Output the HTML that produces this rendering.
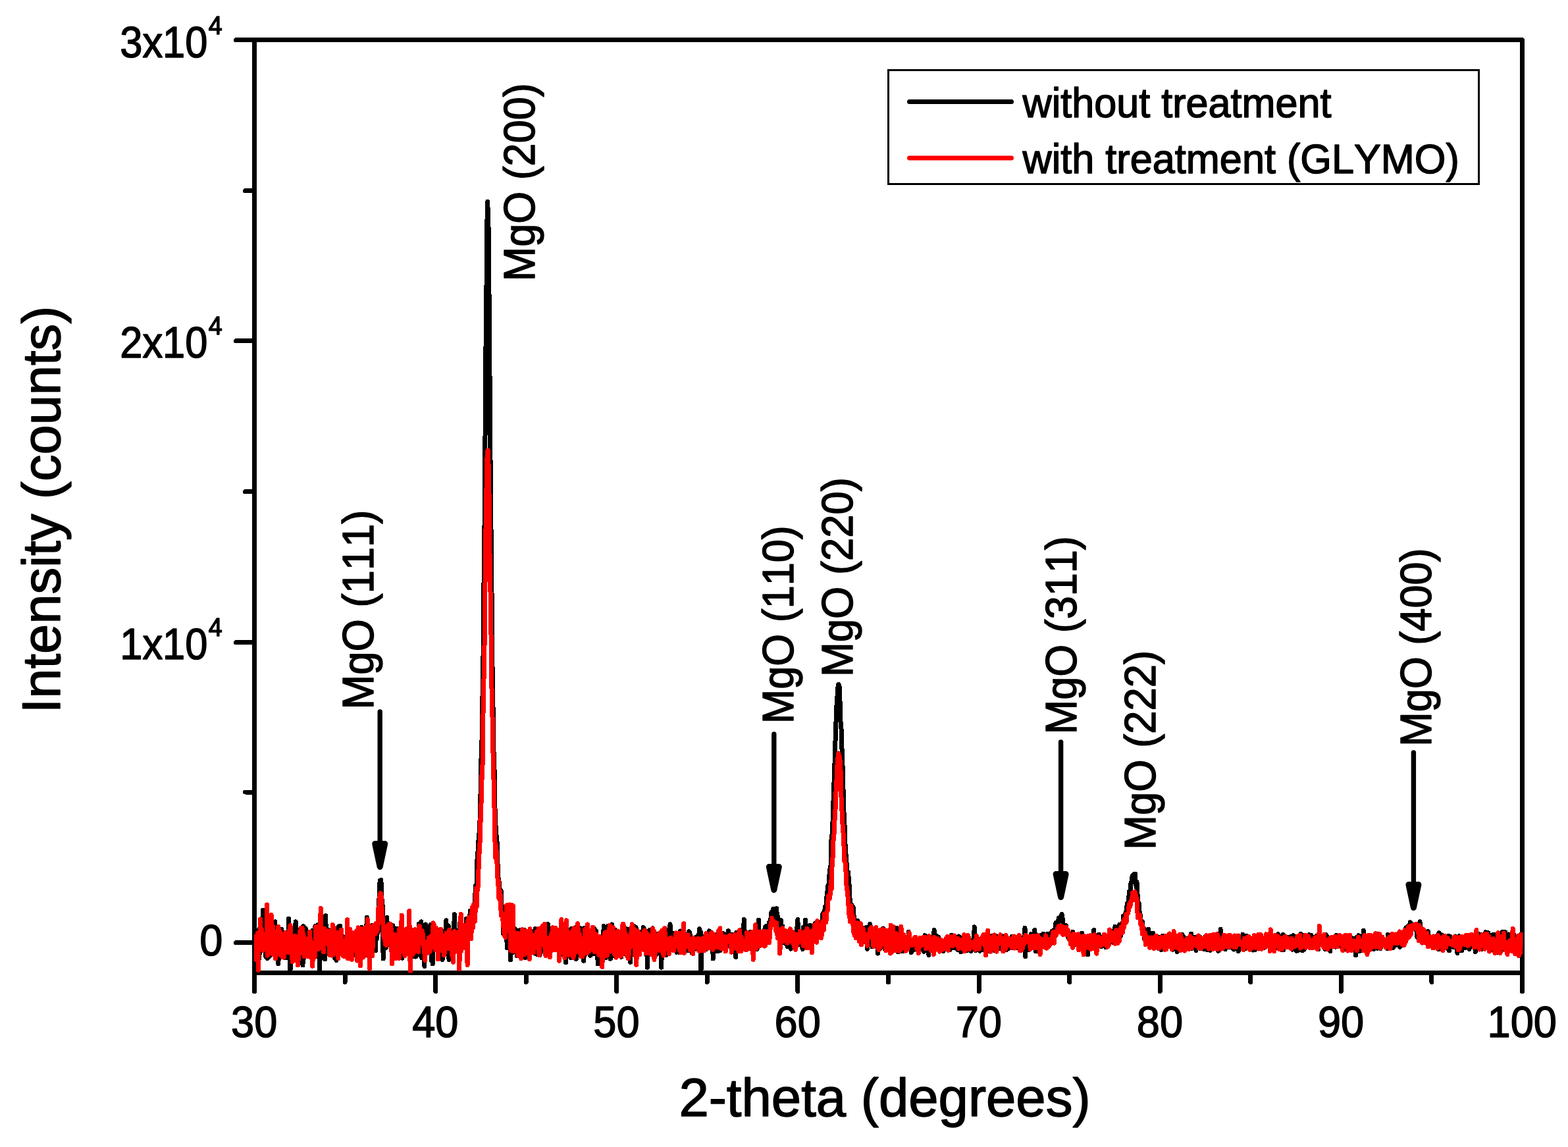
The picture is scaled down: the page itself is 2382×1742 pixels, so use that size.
<!DOCTYPE html>
<html lang="en"><head><meta charset="utf-8"><title>XRD pattern: MgO with and without GLYMO treatment</title>
<style>
html,body{margin:0;padding:0;background:#fff;}
body{width:2382px;height:1742px;}
svg{display:block;}
text{font-family:"Liberation Sans",sans-serif;font-kerning:none;font-feature-settings:"kern" 0,"liga" 0;fill:#000;stroke:#000;stroke-width:1.5px;stroke-linejoin:round;}
</style></head><body>
<svg width="2382" height="1742" viewBox="0 0 2382 1742" role="img" aria-label="XRD pattern of MgO with and without GLYMO treatment">
<rect x="0" y="0" width="2382" height="1742" fill="#fff"/>
<defs><clipPath id="plotclip"><rect x="386" y="57" width="1927.5" height="1420.5"/></clipPath></defs>
<g stroke="#000" stroke-width="7" fill="none" stroke-linecap="round" shape-rendering="crispEdges">
<rect x="386.5" y="60.5" width="1926" height="1417" stroke-linejoin="round"/>
<line x1="386.5" y1="1477.5" x2="386.5" y2="1505.5"/>
<line x1="524.07" y1="1477.5" x2="524.07" y2="1491.5"/>
<line x1="661.64" y1="1477.5" x2="661.64" y2="1505.5"/>
<line x1="799.21" y1="1477.5" x2="799.21" y2="1491.5"/>
<line x1="936.79" y1="1477.5" x2="936.79" y2="1505.5"/>
<line x1="1074.36" y1="1477.5" x2="1074.36" y2="1491.5"/>
<line x1="1211.93" y1="1477.5" x2="1211.93" y2="1505.5"/>
<line x1="1349.5" y1="1477.5" x2="1349.5" y2="1491.5"/>
<line x1="1487.07" y1="1477.5" x2="1487.07" y2="1505.5"/>
<line x1="1624.64" y1="1477.5" x2="1624.64" y2="1491.5"/>
<line x1="1762.21" y1="1477.5" x2="1762.21" y2="1505.5"/>
<line x1="1899.79" y1="1477.5" x2="1899.79" y2="1491.5"/>
<line x1="2037.36" y1="1477.5" x2="2037.36" y2="1505.5"/>
<line x1="2174.93" y1="1477.5" x2="2174.93" y2="1491.5"/>
<line x1="2312.5" y1="1477.5" x2="2312.5" y2="1505.5"/>
<line x1="386.5" y1="1431.5" x2="358.5" y2="1431.5"/>
<line x1="386.5" y1="1203" x2="372.5" y2="1203"/>
<line x1="386.5" y1="975.5" x2="358.5" y2="975.5"/>
<line x1="386.5" y1="746.5" x2="372.5" y2="746.5"/>
<line x1="386.5" y1="517.5" x2="358.5" y2="517.5"/>
<line x1="386.5" y1="289.5" x2="372.5" y2="289.5"/>
<line x1="386.5" y1="60.5" x2="358.5" y2="60.5"/>
</g>
<g clip-path="url(#plotclip)" fill="none" stroke-linejoin="round" stroke-linecap="round" stroke-width="7" shape-rendering="crispEdges">
<path id="curve-black" stroke="#000" d="M386.5,1430.9 L387.3,1411.6 L388.2,1413.0 L389.0,1440.2 L389.8,1436.7 L390.6,1440.5 L391.5,1421.8 L392.3,1432.5 L393.1,1419.1 L393.9,1455.3 L394.8,1409.8 L395.6,1433.2 L396.4,1420.1 L397.2,1433.9 L398.1,1438.1 L398.9,1423.6 L399.7,1382.0 L400.5,1435.0 L401.4,1434.2 L402.2,1420.1 L403.0,1445.6 L403.8,1452.8 L404.7,1424.7 L405.5,1442.7 L406.3,1455.7 L407.1,1444.8 L408.0,1439.5 L408.8,1449.6 L409.6,1452.6 L410.4,1430.9 L411.3,1417.1 L412.1,1435.6 L412.9,1443.8 L413.7,1424.9 L414.6,1419.6 L415.4,1436.7 L416.2,1422.3 L417.0,1415.2 L417.9,1399.9 L418.7,1444.8 L419.5,1425.5 L420.3,1427.2 L421.2,1414.5 L422.0,1450.6 L422.8,1464.0 L423.6,1445.1 L424.5,1454.5 L425.3,1429.3 L426.1,1422.5 L426.9,1443.7 L427.8,1411.4 L428.6,1418.1 L429.4,1421.0 L430.2,1424.6 L431.1,1416.3 L431.9,1451.0 L432.7,1421.2 L433.5,1421.3 L434.4,1454.7 L435.2,1425.5 L436.0,1435.9 L436.9,1418.7 L437.7,1439.0 L438.5,1395.3 L439.3,1425.6 L440.2,1445.6 L441.0,1474.5 L441.8,1433.3 L442.6,1423.1 L443.5,1440.4 L444.3,1414.7 L445.1,1421.3 L445.9,1434.6 L446.8,1420.9 L447.6,1412.7 L448.4,1408.2 L449.2,1399.9 L450.1,1417.3 L450.9,1423.6 L451.7,1433.1 L452.5,1447.3 L453.4,1412.8 L454.2,1450.3 L455.0,1421.9 L455.8,1412.3 L456.7,1453.4 L457.5,1436.7 L458.3,1450.8 L459.1,1427.3 L460.0,1466.0 L460.8,1406.8 L461.6,1454.7 L462.4,1441.2 L463.3,1419.8 L464.1,1409.8 L464.9,1424.3 L465.7,1443.8 L466.6,1426.4 L467.4,1431.8 L468.2,1435.0 L469.0,1443.6 L469.9,1424.8 L470.7,1426.2 L471.5,1433.1 L472.3,1435.4 L473.2,1450.5 L474.0,1439.8 L474.8,1413.3 L475.6,1434.8 L476.5,1452.0 L477.3,1412.0 L478.1,1422.5 L478.9,1406.4 L479.8,1430.4 L480.6,1439.4 L481.4,1452.1 L482.2,1412.1 L483.1,1404.5 L483.9,1444.8 L484.7,1442.3 L485.6,1474.5 L486.4,1445.0 L487.2,1436.2 L488.0,1437.5 L488.9,1428.2 L489.7,1414.6 L490.5,1431.1 L491.3,1416.8 L492.2,1438.7 L493.0,1425.8 L493.8,1456.8 L494.6,1390.6 L495.5,1418.5 L496.3,1441.4 L497.1,1421.7 L497.9,1422.3 L498.8,1412.2 L499.6,1418.3 L500.4,1415.6 L501.2,1433.4 L502.1,1443.0 L502.9,1443.5 L503.7,1439.8 L504.5,1448.8 L505.4,1440.7 L506.2,1433.1 L507.0,1427.1 L507.8,1437.3 L508.7,1455.6 L509.5,1432.8 L510.3,1427.6 L511.1,1458.7 L512.0,1421.8 L512.8,1442.2 L513.6,1443.4 L514.4,1406.9 L515.3,1419.1 L516.1,1408.0 L516.9,1406.3 L517.7,1444.8 L518.6,1424.9 L519.4,1423.7 L520.2,1422.1 L521.0,1422.4 L521.9,1428.0 L522.7,1428.5 L523.5,1452.5 L524.3,1434.4 L525.2,1443.8 L526.0,1429.3 L526.8,1439.4 L527.6,1421.2 L528.5,1418.2 L529.3,1426.2 L530.1,1426.1 L531.0,1429.9 L531.8,1439.1 L532.6,1434.4 L533.4,1439.9 L534.3,1424.9 L535.1,1431.3 L535.9,1421.8 L536.7,1450.8 L537.6,1417.3 L538.4,1444.0 L539.2,1443.5 L540.0,1434.9 L540.9,1441.0 L541.7,1426.5 L542.5,1441.1 L543.3,1448.0 L544.2,1445.1 L545.0,1412.3 L545.8,1430.7 L546.6,1449.1 L547.5,1431.3 L548.3,1452.8 L549.1,1408.2 L549.9,1452.5 L550.8,1423.2 L551.6,1422.2 L552.4,1451.8 L553.2,1426.1 L554.1,1415.6 L554.9,1423.2 L555.7,1426.5 L556.5,1416.0 L557.4,1393.3 L558.2,1424.9 L559.0,1432.7 L559.8,1419.8 L560.7,1445.0 L561.5,1417.0 L562.3,1438.0 L563.1,1445.8 L564.0,1422.3 L564.8,1405.6 L565.6,1412.2 L566.4,1435.1 L567.3,1413.9 L568.1,1431.8 L568.9,1424.6 L569.7,1418.8 L570.6,1443.6 L571.4,1411.0 L572.2,1425.9 L573.0,1415.5 L573.9,1417.0 L574.7,1407.0 L575.5,1387.3 L576.3,1350.6 L577.2,1337.6 L578.0,1338.5 L578.8,1336.4 L579.7,1352.6 L580.5,1383.0 L581.3,1376.0 L582.1,1456.0 L583.0,1406.5 L583.8,1401.0 L584.6,1401.9 L585.4,1429.4 L586.3,1439.3 L587.1,1424.9 L587.9,1393.3 L588.7,1430.6 L589.6,1410.3 L590.4,1404.1 L591.2,1434.6 L592.0,1416.7 L592.9,1413.9 L593.7,1417.5 L594.5,1413.4 L595.3,1436.5 L596.2,1418.1 L597.0,1405.9 L597.8,1417.6 L598.6,1441.0 L599.5,1420.8 L600.3,1412.4 L601.1,1424.8 L601.9,1440.6 L602.8,1410.0 L603.6,1449.7 L604.4,1422.8 L605.2,1431.6 L606.1,1449.2 L606.9,1413.3 L607.7,1425.5 L608.5,1449.0 L609.4,1421.4 L610.2,1438.8 L611.0,1455.2 L611.8,1442.8 L612.7,1426.9 L613.5,1421.0 L614.3,1428.6 L615.1,1430.7 L616.0,1423.6 L616.8,1435.1 L617.6,1413.8 L618.4,1428.9 L619.3,1426.5 L620.1,1422.4 L620.9,1447.8 L621.7,1443.1 L622.6,1410.4 L623.4,1425.8 L624.2,1436.3 L625.0,1425.7 L625.9,1439.6 L626.7,1426.7 L627.5,1442.5 L628.4,1426.8 L629.2,1453.0 L630.0,1412.2 L630.8,1440.1 L631.7,1453.0 L632.5,1435.4 L633.3,1437.8 L634.1,1428.9 L635.0,1448.8 L635.8,1424.7 L636.6,1402.9 L637.4,1450.2 L638.3,1425.7 L639.1,1436.8 L639.9,1399.9 L640.7,1454.7 L641.6,1448.8 L642.4,1423.7 L643.2,1432.2 L644.0,1409.6 L644.9,1467.3 L645.7,1428.5 L646.5,1404.0 L647.3,1443.9 L648.2,1445.8 L649.0,1432.1 L649.8,1432.3 L650.6,1418.0 L651.5,1429.3 L652.3,1443.8 L653.1,1427.9 L653.9,1404.6 L654.8,1412.9 L655.6,1458.7 L656.4,1433.9 L657.2,1464.0 L658.1,1421.2 L658.9,1434.5 L659.7,1407.6 L660.5,1416.8 L661.4,1417.3 L662.2,1428.2 L663.0,1432.0 L663.8,1425.4 L664.7,1412.3 L665.5,1422.1 L666.3,1437.0 L667.1,1412.2 L668.0,1427.5 L668.8,1432.0 L669.6,1443.4 L670.4,1439.9 L671.3,1440.9 L672.1,1457.5 L672.9,1414.5 L673.7,1420.7 L674.6,1433.7 L675.4,1413.9 L676.2,1422.4 L677.1,1423.4 L677.9,1397.9 L678.7,1433.5 L679.5,1420.5 L680.4,1407.7 L681.2,1405.9 L682.0,1457.3 L682.8,1446.4 L683.7,1454.0 L684.5,1419.2 L685.3,1428.1 L686.1,1413.4 L687.0,1430.4 L687.8,1424.3 L688.6,1448.7 L689.4,1420.2 L690.3,1388.7 L691.1,1421.4 L691.9,1419.4 L692.7,1429.0 L693.6,1421.3 L694.4,1426.7 L695.2,1413.9 L696.0,1417.5 L696.9,1434.7 L697.7,1435.0 L698.5,1402.3 L699.3,1426.3 L700.2,1408.8 L701.0,1417.1 L701.8,1432.7 L702.6,1434.9 L703.5,1420.2 L704.3,1417.2 L705.1,1410.7 L705.9,1438.6 L706.8,1429.0 L707.6,1419.8 L708.4,1395.5 L709.2,1441.7 L710.1,1407.1 L710.9,1421.9 L711.7,1403.9 L712.5,1417.5 L713.4,1401.0 L714.2,1383.5 L715.0,1396.1 L715.8,1391.8 L716.7,1389.5 L717.5,1404.2 L718.3,1378.8 L719.1,1386.7 L720.0,1390.8 L720.8,1372.4 L721.6,1368.9 L722.4,1345.1 L723.3,1349.2 L724.1,1347.3 L724.9,1306.8 L725.8,1298.6 L726.6,1280.3 L727.4,1271.3 L728.2,1262.9 L729.1,1244.4 L729.9,1214.4 L730.7,1162.4 L731.5,1136.9 L732.4,1114.1 L733.2,1040.8 L734.0,997.1 L734.8,900.7 L735.7,836.5 L736.5,741.5 L737.3,617.9 L738.1,516.4 L739.0,434.8 L739.8,342.4 L740.6,306.4 L741.4,322.5 L742.3,356.6 L743.1,458.5 L743.9,557.5 L744.7,658.1 L745.6,776.4 L746.4,829.7 L747.2,921.4 L748.0,1011.7 L748.9,1064.0 L749.7,1130.7 L750.5,1158.6 L751.3,1174.4 L752.2,1242.3 L753.0,1253.6 L753.8,1266.2 L754.6,1272.1 L755.5,1285.5 L756.3,1326.9 L757.1,1343.8 L757.9,1335.2 L758.8,1358.5 L759.6,1366.1 L760.4,1351.9 L761.2,1352.7 L762.1,1376.1 L762.9,1389.0 L763.7,1380.9 L764.5,1417.9 L765.4,1398.4 L766.2,1417.5 L767.0,1378.4 L767.8,1395.2 L768.7,1406.8 L769.5,1414.6 L770.3,1439.4 L771.1,1403.3 L772.0,1394.7 L772.8,1429.5 L773.6,1407.9 L774.5,1408.4 L775.3,1458.0 L776.1,1407.4 L776.9,1403.5 L777.8,1419.7 L778.6,1425.3 L779.4,1412.2 L780.2,1446.2 L781.1,1424.2 L781.9,1410.2 L782.7,1444.7 L783.5,1411.7 L784.4,1434.3 L785.2,1452.0 L786.0,1429.6 L786.8,1443.0 L787.7,1422.9 L788.5,1445.8 L789.3,1412.7 L790.1,1440.6 L791.0,1422.9 L791.8,1438.7 L792.6,1434.5 L793.4,1411.7 L794.3,1425.6 L795.1,1436.0 L795.9,1447.6 L796.7,1412.3 L797.6,1417.8 L798.4,1454.5 L799.2,1425.5 L800.0,1445.3 L800.9,1445.2 L801.7,1442.8 L802.5,1423.9 L803.3,1424.8 L804.2,1441.8 L805.0,1418.1 L805.8,1417.4 L806.6,1427.0 L807.5,1414.2 L808.3,1434.8 L809.1,1431.9 L809.9,1422.2 L810.8,1430.6 L811.6,1417.4 L812.4,1448.1 L813.2,1410.3 L814.1,1442.5 L814.9,1432.9 L815.7,1449.4 L816.5,1420.3 L817.4,1411.8 L818.2,1414.1 L819.0,1417.1 L819.9,1451.0 L820.7,1442.6 L821.5,1437.8 L822.3,1444.6 L823.2,1413.6 L824.0,1427.1 L824.8,1430.6 L825.6,1422.2 L826.5,1444.9 L827.3,1444.3 L828.1,1444.0 L828.9,1422.1 L829.8,1424.6 L830.6,1420.9 L831.4,1414.2 L832.2,1403.3 L833.1,1439.5 L833.9,1427.9 L834.7,1449.3 L835.5,1439.1 L836.4,1415.1 L837.2,1414.0 L838.0,1414.4 L838.8,1429.7 L839.7,1434.0 L840.5,1414.4 L841.3,1436.6 L842.1,1424.9 L843.0,1411.8 L843.8,1436.6 L844.6,1440.4 L845.4,1430.7 L846.3,1420.9 L847.1,1422.6 L847.9,1427.9 L848.7,1421.5 L849.6,1451.6 L850.4,1443.9 L851.2,1427.9 L852.0,1444.8 L852.9,1449.4 L853.7,1448.1 L854.5,1444.7 L855.3,1433.7 L856.2,1446.0 L857.0,1426.8 L857.8,1409.0 L858.6,1433.2 L859.5,1462.0 L860.3,1425.9 L861.1,1447.2 L861.9,1435.0 L862.8,1445.6 L863.6,1418.7 L864.4,1447.6 L865.2,1412.3 L866.1,1421.5 L866.9,1454.5 L867.7,1418.6 L868.6,1410.3 L869.4,1443.2 L870.2,1416.0 L871.0,1453.2 L871.9,1426.7 L872.7,1452.3 L873.5,1423.1 L874.3,1453.2 L875.2,1456.9 L876.0,1424.5 L876.8,1406.2 L877.6,1440.5 L878.5,1418.1 L879.3,1429.2 L880.1,1436.3 L880.9,1421.2 L881.8,1409.8 L882.6,1448.6 L883.4,1422.0 L884.2,1425.4 L885.1,1450.4 L885.9,1410.1 L886.7,1459.3 L887.5,1445.4 L888.4,1409.2 L889.2,1430.1 L890.0,1433.8 L890.8,1411.0 L891.7,1427.3 L892.5,1425.7 L893.3,1410.9 L894.1,1413.0 L895.0,1417.4 L895.8,1450.2 L896.6,1451.6 L897.4,1414.7 L898.3,1445.1 L899.1,1428.6 L899.9,1446.8 L900.7,1434.1 L901.6,1449.0 L902.4,1410.1 L903.2,1446.2 L904.0,1433.1 L904.9,1434.2 L905.7,1413.8 L906.5,1450.3 L907.3,1431.6 L908.2,1464.0 L909.0,1422.5 L909.8,1423.4 L910.6,1438.5 L911.5,1427.1 L912.3,1437.1 L913.1,1423.5 L913.9,1432.7 L914.8,1441.4 L915.6,1431.5 L916.4,1425.1 L917.3,1406.6 L918.1,1438.9 L918.9,1426.0 L919.7,1411.5 L920.6,1454.6 L921.4,1452.7 L922.2,1448.0 L923.0,1432.9 L923.9,1406.0 L924.7,1424.7 L925.5,1413.9 L926.3,1434.7 L927.2,1456.2 L928.0,1455.6 L928.8,1416.0 L929.6,1403.9 L930.5,1449.1 L931.3,1414.9 L932.1,1451.2 L932.9,1414.7 L933.8,1411.6 L934.6,1442.8 L935.4,1447.1 L936.2,1418.2 L937.1,1446.9 L937.9,1418.0 L938.7,1448.0 L939.5,1418.7 L940.4,1429.5 L941.2,1438.0 L942.0,1444.5 L942.8,1427.2 L943.7,1453.4 L944.5,1435.5 L945.3,1437.4 L946.1,1420.5 L947.0,1448.5 L947.8,1409.8 L948.6,1436.1 L949.4,1447.2 L950.3,1412.4 L951.1,1410.2 L951.9,1434.1 L952.7,1444.3 L953.6,1430.8 L954.4,1441.7 L955.2,1436.0 L956.0,1411.1 L956.9,1424.8 L957.7,1461.3 L958.5,1425.5 L959.3,1432.0 L960.2,1418.5 L961.0,1418.0 L961.8,1436.9 L962.6,1429.4 L963.5,1406.7 L964.3,1424.4 L965.1,1434.0 L966.0,1408.2 L966.8,1430.9 L967.6,1446.6 L968.4,1420.8 L969.3,1444.3 L970.1,1438.8 L970.9,1425.9 L971.7,1433.1 L972.6,1442.5 L973.4,1439.6 L974.2,1440.2 L975.0,1414.9 L975.9,1441.9 L976.7,1439.8 L977.5,1408.5 L978.3,1439.6 L979.2,1412.0 L980.0,1413.5 L980.8,1433.5 L981.6,1449.5 L982.5,1424.0 L983.3,1469.3 L984.1,1417.2 L984.9,1429.9 L985.8,1414.6 L986.6,1412.9 L987.4,1445.9 L988.2,1412.6 L989.1,1428.3 L989.9,1439.7 L990.7,1436.0 L991.5,1409.6 L992.4,1417.1 L993.2,1452.0 L994.0,1429.7 L994.8,1433.2 L995.7,1433.8 L996.5,1438.9 L997.3,1449.6 L998.1,1418.6 L999.0,1444.4 L999.8,1436.7 L1000.6,1440.1 L1001.4,1441.8 L1002.3,1420.1 L1003.1,1425.2 L1003.9,1441.0 L1004.7,1469.3 L1005.6,1438.2 L1006.4,1417.4 L1007.2,1429.1 L1008.0,1427.4 L1008.9,1436.0 L1009.7,1434.9 L1010.5,1427.8 L1011.3,1451.0 L1012.2,1412.8 L1013.0,1441.6 L1013.8,1438.8 L1014.7,1415.5 L1015.5,1428.0 L1016.3,1430.5 L1017.1,1438.5 L1018.0,1403.9 L1018.8,1428.7 L1019.6,1418.1 L1020.4,1441.2 L1021.3,1417.3 L1022.1,1442.8 L1022.9,1439.1 L1023.7,1425.4 L1024.6,1431.0 L1025.4,1423.7 L1026.2,1438.9 L1027.0,1441.4 L1027.9,1446.3 L1028.7,1442.6 L1029.5,1441.7 L1030.3,1444.1 L1031.2,1427.6 L1032.0,1438.1 L1032.8,1446.7 L1033.6,1414.0 L1034.5,1439.7 L1035.3,1443.0 L1036.1,1419.2 L1036.9,1419.8 L1037.8,1442.2 L1038.6,1444.3 L1039.4,1441.1 L1040.2,1420.0 L1041.1,1434.5 L1041.9,1439.4 L1042.7,1431.4 L1043.5,1419.5 L1044.4,1443.8 L1045.2,1435.2 L1046.0,1443.8 L1046.8,1414.8 L1047.7,1416.1 L1048.5,1421.4 L1049.3,1432.5 L1050.1,1424.1 L1051.0,1447.0 L1051.8,1428.0 L1052.6,1443.4 L1053.4,1443.4 L1054.3,1438.5 L1055.1,1434.9 L1055.9,1424.9 L1056.7,1423.7 L1057.6,1428.2 L1058.4,1440.6 L1059.2,1423.9 L1060.0,1432.4 L1060.9,1419.7 L1061.7,1440.3 L1062.5,1410.6 L1063.4,1436.2 L1064.2,1415.0 L1065.0,1474.5 L1065.8,1433.2 L1066.7,1422.1 L1067.5,1425.6 L1068.3,1426.1 L1069.1,1436.6 L1070.0,1430.2 L1070.8,1428.8 L1071.6,1437.8 L1072.4,1441.9 L1073.3,1429.5 L1074.1,1421.3 L1074.9,1424.2 L1075.7,1425.7 L1076.6,1425.5 L1077.4,1413.9 L1078.2,1428.0 L1079.0,1420.6 L1079.9,1415.5 L1080.7,1430.2 L1081.5,1427.8 L1082.3,1420.4 L1083.2,1456.0 L1084.0,1427.2 L1084.8,1426.6 L1085.6,1429.5 L1086.5,1441.9 L1087.3,1419.7 L1088.1,1433.2 L1088.9,1444.7 L1089.8,1431.9 L1090.6,1444.7 L1091.4,1440.2 L1092.2,1430.0 L1093.1,1439.4 L1093.9,1419.7 L1094.7,1443.2 L1095.5,1427.2 L1096.4,1424.1 L1097.2,1417.0 L1098.0,1420.7 L1098.8,1427.3 L1099.7,1428.9 L1100.5,1430.4 L1101.3,1418.9 L1102.1,1436.6 L1103.0,1424.1 L1103.8,1430.7 L1104.6,1427.0 L1105.4,1432.4 L1106.3,1413.8 L1107.1,1436.3 L1107.9,1426.7 L1108.8,1426.4 L1109.6,1423.0 L1110.4,1424.5 L1111.2,1424.7 L1112.1,1419.6 L1112.9,1442.4 L1113.7,1429.0 L1114.5,1440.7 L1115.4,1426.6 L1116.2,1440.3 L1117.0,1438.5 L1117.8,1453.4 L1118.7,1416.4 L1119.5,1422.8 L1120.3,1425.6 L1121.1,1416.3 L1122.0,1438.1 L1122.8,1444.4 L1123.6,1433.2 L1124.4,1431.6 L1125.3,1417.1 L1126.1,1412.9 L1126.9,1440.6 L1127.7,1411.9 L1128.6,1415.0 L1129.4,1419.9 L1130.2,1396.6 L1131.0,1411.9 L1131.9,1427.3 L1132.7,1433.1 L1133.5,1426.5 L1134.3,1440.4 L1135.2,1422.9 L1136.0,1429.1 L1136.8,1424.3 L1137.6,1423.9 L1138.5,1437.9 L1139.3,1415.7 L1140.1,1437.4 L1140.9,1418.6 L1141.8,1440.9 L1142.6,1423.3 L1143.4,1435.4 L1144.2,1426.6 L1145.1,1433.7 L1145.9,1442.7 L1146.7,1437.3 L1147.5,1425.8 L1148.4,1419.9 L1149.2,1439.1 L1150.0,1441.8 L1150.8,1434.6 L1151.7,1427.9 L1152.5,1397.3 L1153.3,1433.4 L1154.1,1416.5 L1155.0,1415.2 L1155.8,1416.8 L1156.6,1433.2 L1157.5,1422.8 L1158.3,1425.3 L1159.1,1435.4 L1159.9,1413.5 L1160.8,1420.7 L1161.6,1426.1 L1162.4,1407.8 L1163.2,1411.7 L1164.1,1409.9 L1164.9,1406.2 L1165.7,1408.7 L1166.5,1426.1 L1167.4,1416.9 L1168.2,1401.1 L1169.0,1416.3 L1169.8,1405.5 L1170.7,1398.8 L1171.5,1387.3 L1172.3,1384.7 L1173.1,1384.2 L1174.0,1391.2 L1174.8,1380.3 L1175.6,1382.1 L1176.4,1383.5 L1177.3,1380.8 L1178.1,1382.3 L1178.9,1393.1 L1179.7,1379.7 L1180.6,1396.5 L1181.4,1391.3 L1182.2,1413.8 L1183.0,1404.0 L1183.9,1415.8 L1184.7,1418.5 L1185.5,1426.0 L1186.3,1397.6 L1187.2,1416.2 L1188.0,1413.5 L1188.8,1406.8 L1189.6,1419.6 L1190.5,1413.8 L1191.3,1432.1 L1192.1,1418.5 L1192.9,1425.6 L1193.8,1416.6 L1194.6,1420.3 L1195.4,1434.9 L1196.2,1437.5 L1197.1,1433.0 L1197.9,1416.2 L1198.7,1419.3 L1199.5,1419.8 L1200.4,1439.3 L1201.2,1441.1 L1202.0,1430.9 L1202.8,1428.1 L1203.7,1430.9 L1204.5,1421.1 L1205.3,1426.7 L1206.2,1435.9 L1207.0,1433.6 L1207.8,1423.5 L1208.6,1424.3 L1209.5,1425.8 L1210.3,1409.3 L1211.1,1427.8 L1211.9,1396.6 L1212.8,1434.5 L1213.6,1428.7 L1214.4,1419.5 L1215.2,1419.0 L1216.1,1426.4 L1216.9,1420.5 L1217.7,1423.9 L1218.5,1438.9 L1219.4,1441.6 L1220.2,1408.4 L1221.0,1415.8 L1221.8,1424.4 L1222.7,1437.5 L1223.5,1397.3 L1224.3,1411.3 L1225.1,1439.7 L1226.0,1426.1 L1226.8,1414.0 L1227.6,1420.7 L1228.4,1414.4 L1229.3,1422.9 L1230.1,1405.2 L1230.9,1430.5 L1231.7,1432.3 L1232.6,1417.0 L1233.4,1407.0 L1234.2,1419.4 L1235.0,1408.4 L1235.9,1423.1 L1236.7,1427.8 L1237.5,1404.1 L1238.3,1402.4 L1239.2,1401.7 L1240.0,1418.2 L1240.8,1423.3 L1241.6,1422.3 L1242.5,1412.8 L1243.3,1403.3 L1244.1,1402.6 L1244.9,1418.7 L1245.8,1402.7 L1246.6,1402.8 L1247.4,1400.1 L1248.2,1399.2 L1249.1,1398.8 L1249.9,1388.2 L1250.7,1390.0 L1251.5,1386.0 L1252.4,1391.9 L1253.2,1377.2 L1254.0,1378.4 L1254.9,1387.9 L1255.7,1362.5 L1256.5,1364.8 L1257.3,1346.6 L1258.2,1350.5 L1259.0,1342.0 L1259.8,1329.9 L1260.6,1322.5 L1261.5,1316.2 L1262.3,1313.9 L1263.1,1270.0 L1263.9,1283.7 L1264.8,1256.2 L1265.6,1226.1 L1266.4,1207.9 L1267.2,1183.1 L1268.1,1156.8 L1268.9,1127.6 L1269.7,1111.5 L1270.5,1073.0 L1271.4,1078.8 L1272.2,1051.4 L1273.0,1043.5 L1273.8,1039.4 L1274.7,1041.2 L1275.5,1044.5 L1276.3,1076.7 L1277.1,1098.9 L1278.0,1106.6 L1278.8,1133.5 L1279.6,1147.8 L1280.4,1177.9 L1281.3,1209.4 L1282.1,1237.3 L1282.9,1249.7 L1283.7,1271.9 L1284.6,1299.4 L1285.4,1298.9 L1286.2,1313.6 L1287.0,1325.3 L1287.9,1337.5 L1288.7,1324.7 L1289.5,1340.5 L1290.3,1345.0 L1291.2,1369.3 L1292.0,1379.1 L1292.8,1376.2 L1293.6,1374.1 L1294.5,1385.6 L1295.3,1387.3 L1296.1,1377.4 L1296.9,1387.7 L1297.8,1405.3 L1298.6,1401.9 L1299.4,1406.9 L1300.2,1398.8 L1301.1,1415.7 L1301.9,1407.0 L1302.7,1398.1 L1303.6,1407.5 L1304.4,1419.7 L1305.2,1417.9 L1306.0,1410.1 L1306.9,1406.8 L1307.7,1403.9 L1308.5,1416.4 L1309.3,1429.3 L1310.2,1409.2 L1311.0,1413.2 L1311.8,1412.6 L1312.6,1414.4 L1313.5,1430.4 L1314.3,1423.3 L1315.1,1416.6 L1315.9,1408.7 L1316.8,1419.9 L1317.6,1441.4 L1318.4,1424.4 L1319.2,1417.4 L1320.1,1408.4 L1320.9,1413.9 L1321.7,1403.4 L1322.5,1408.3 L1323.4,1409.0 L1324.2,1412.6 L1325.0,1437.9 L1325.8,1413.9 L1326.7,1416.7 L1327.5,1430.5 L1328.3,1417.1 L1329.1,1419.2 L1330.0,1430.2 L1330.8,1426.1 L1331.6,1428.0 L1332.4,1421.9 L1333.3,1448.1 L1334.1,1418.4 L1334.9,1442.4 L1335.7,1428.6 L1336.6,1441.4 L1337.4,1431.2 L1338.2,1419.0 L1339.0,1425.1 L1339.9,1426.8 L1340.7,1424.6 L1341.5,1410.0 L1342.3,1437.8 L1343.2,1415.4 L1344.0,1440.8 L1344.8,1431.4 L1345.6,1423.6 L1346.5,1435.6 L1347.3,1423.2 L1348.1,1417.1 L1348.9,1438.7 L1349.8,1426.8 L1350.6,1430.5 L1351.4,1443.3 L1352.3,1428.2 L1353.1,1435.2 L1353.9,1411.8 L1354.7,1436.0 L1355.6,1409.6 L1356.4,1432.4 L1357.2,1408.5 L1358.0,1419.4 L1358.9,1420.4 L1359.7,1416.5 L1360.5,1415.6 L1361.3,1411.5 L1362.2,1409.5 L1363.0,1430.3 L1363.8,1439.4 L1364.6,1445.7 L1365.5,1431.0 L1366.3,1417.4 L1367.1,1421.9 L1367.9,1444.7 L1368.8,1431.3 L1369.6,1435.0 L1370.4,1431.1 L1371.2,1423.1 L1372.1,1444.6 L1372.9,1420.0 L1373.7,1443.0 L1374.5,1430.9 L1375.4,1436.4 L1376.2,1433.8 L1377.0,1440.4 L1377.8,1441.3 L1378.7,1433.0 L1379.5,1441.0 L1380.3,1415.3 L1381.1,1435.6 L1382.0,1438.0 L1382.8,1437.2 L1383.6,1441.3 L1384.4,1446.6 L1385.3,1434.9 L1386.1,1430.0 L1386.9,1443.3 L1387.7,1432.8 L1388.6,1441.7 L1389.4,1433.2 L1390.2,1429.9 L1391.0,1428.9 L1391.9,1429.3 L1392.7,1438.5 L1393.5,1426.0 L1394.3,1436.6 L1395.2,1430.0 L1396.0,1427.2 L1396.8,1435.4 L1397.7,1442.0 L1398.5,1427.9 L1399.3,1441.1 L1400.1,1439.8 L1401.0,1441.0 L1401.8,1426.3 L1402.6,1434.2 L1403.4,1445.3 L1404.3,1427.0 L1405.1,1420.8 L1405.9,1421.5 L1406.7,1437.5 L1407.6,1432.2 L1408.4,1428.7 L1409.2,1425.9 L1410.0,1432.5 L1410.9,1450.7 L1411.7,1426.8 L1412.5,1427.8 L1413.3,1442.2 L1414.2,1435.9 L1415.0,1430.6 L1415.8,1432.8 L1416.6,1428.5 L1417.5,1426.5 L1418.3,1428.4 L1419.1,1412.6 L1419.9,1442.3 L1420.8,1427.8 L1421.6,1423.0 L1422.4,1420.9 L1423.2,1433.1 L1424.1,1433.1 L1424.9,1422.8 L1425.7,1422.9 L1426.5,1429.9 L1427.4,1427.1 L1428.2,1438.8 L1429.0,1428.0 L1429.8,1439.2 L1430.7,1434.0 L1431.5,1433.8 L1432.3,1436.6 L1433.1,1444.8 L1434.0,1439.2 L1434.8,1430.0 L1435.6,1433.3 L1436.4,1436.0 L1437.3,1429.2 L1438.1,1427.2 L1438.9,1426.1 L1439.7,1439.1 L1440.6,1432.6 L1441.4,1435.5 L1442.2,1439.5 L1443.0,1442.8 L1443.9,1433.6 L1444.7,1439.5 L1445.5,1420.4 L1446.4,1433.6 L1447.2,1434.6 L1448.0,1436.0 L1448.8,1421.1 L1449.7,1439.9 L1450.5,1434.1 L1451.3,1438.8 L1452.1,1433.8 L1453.0,1433.0 L1453.8,1424.5 L1454.6,1442.4 L1455.4,1432.9 L1456.3,1422.0 L1457.1,1436.9 L1457.9,1434.2 L1458.7,1439.5 L1459.6,1445.6 L1460.4,1433.6 L1461.2,1424.0 L1462.0,1436.5 L1462.9,1444.0 L1463.7,1430.4 L1464.5,1432.0 L1465.3,1425.0 L1466.2,1425.6 L1467.0,1434.9 L1467.8,1429.3 L1468.6,1443.8 L1469.5,1424.3 L1470.3,1431.1 L1471.1,1424.5 L1471.9,1424.6 L1472.8,1435.0 L1473.6,1433.9 L1474.4,1439.4 L1475.2,1444.5 L1476.1,1433.7 L1476.9,1431.3 L1477.7,1440.6 L1478.5,1426.9 L1479.4,1431.8 L1480.2,1407.9 L1481.0,1438.6 L1481.8,1443.6 L1482.7,1426.4 L1483.5,1427.6 L1484.3,1433.5 L1485.1,1436.0 L1486.0,1434.9 L1486.8,1433.7 L1487.6,1436.7 L1488.4,1444.3 L1489.3,1426.3 L1490.1,1442.6 L1490.9,1435.3 L1491.7,1435.1 L1492.6,1430.3 L1493.4,1443.0 L1494.2,1423.7 L1495.1,1427.2 L1495.9,1426.4 L1496.7,1423.4 L1497.5,1438.7 L1498.4,1446.0 L1499.2,1429.6 L1500.0,1423.1 L1500.8,1423.9 L1501.7,1436.7 L1502.5,1433.1 L1503.3,1430.0 L1504.1,1443.6 L1505.0,1437.7 L1505.8,1437.4 L1506.6,1421.8 L1507.4,1437.5 L1508.3,1421.8 L1509.1,1432.2 L1509.9,1443.1 L1510.7,1419.9 L1511.6,1439.6 L1512.4,1427.2 L1513.2,1421.3 L1514.0,1436.6 L1514.9,1441.0 L1515.7,1424.4 L1516.5,1431.6 L1517.3,1441.0 L1518.2,1440.2 L1519.0,1435.4 L1519.8,1424.8 L1520.6,1434.5 L1521.5,1426.9 L1522.3,1421.4 L1523.1,1423.1 L1523.9,1422.2 L1524.8,1423.2 L1525.6,1442.7 L1526.4,1423.3 L1527.2,1429.3 L1528.1,1433.1 L1528.9,1440.1 L1529.7,1442.5 L1530.5,1440.3 L1531.4,1432.2 L1532.2,1440.6 L1533.0,1438.4 L1533.8,1437.0 L1534.7,1426.7 L1535.5,1434.5 L1536.3,1433.2 L1537.1,1422.7 L1538.0,1434.7 L1538.8,1427.1 L1539.6,1439.9 L1540.4,1429.2 L1541.3,1430.9 L1542.1,1430.5 L1542.9,1435.8 L1543.8,1439.7 L1544.6,1434.4 L1545.4,1435.7 L1546.2,1424.1 L1547.1,1424.9 L1547.9,1440.6 L1548.7,1426.8 L1549.5,1435.8 L1550.4,1428.1 L1551.2,1435.8 L1552.0,1441.8 L1552.8,1424.1 L1553.7,1428.1 L1554.5,1440.6 L1555.3,1443.3 L1556.1,1436.1 L1557.0,1409.2 L1557.8,1452.7 L1558.6,1426.7 L1559.4,1421.7 L1560.3,1434.6 L1561.1,1422.1 L1561.9,1423.1 L1562.7,1435.2 L1563.6,1442.3 L1564.4,1424.9 L1565.2,1426.6 L1566.0,1418.9 L1566.9,1421.6 L1567.7,1425.3 L1568.5,1420.5 L1569.3,1439.2 L1570.2,1429.7 L1571.0,1433.5 L1571.8,1412.6 L1572.6,1426.6 L1573.5,1444.7 L1574.3,1421.5 L1575.1,1437.9 L1575.9,1424.8 L1576.8,1434.7 L1577.6,1428.7 L1578.4,1425.5 L1579.2,1428.9 L1580.1,1437.7 L1580.9,1420.7 L1581.7,1426.9 L1582.5,1430.2 L1583.4,1424.3 L1584.2,1434.1 L1585.0,1418.2 L1585.8,1427.6 L1586.7,1426.2 L1587.5,1426.2 L1588.3,1435.8 L1589.1,1437.1 L1590.0,1426.4 L1590.8,1425.0 L1591.6,1418.2 L1592.5,1423.5 L1593.3,1434.9 L1594.1,1422.0 L1594.9,1419.3 L1595.8,1417.6 L1596.6,1421.7 L1597.4,1432.6 L1598.2,1414.5 L1599.1,1427.7 L1599.9,1416.2 L1600.7,1430.0 L1601.5,1412.1 L1602.4,1422.7 L1603.2,1406.7 L1604.0,1401.7 L1604.8,1401.9 L1605.7,1416.5 L1606.5,1412.5 L1607.3,1409.2 L1608.1,1394.5 L1609.0,1394.5 L1609.8,1394.0 L1610.6,1392.4 L1611.4,1391.9 L1612.3,1391.7 L1613.1,1388.5 L1613.9,1395.9 L1614.7,1396.3 L1615.6,1411.9 L1616.4,1412.7 L1617.2,1411.7 L1618.0,1417.4 L1618.9,1409.4 L1619.7,1405.6 L1620.5,1419.0 L1621.3,1421.1 L1622.2,1422.8 L1623.0,1418.9 L1623.8,1425.7 L1624.6,1418.8 L1625.5,1420.7 L1626.3,1421.2 L1627.1,1418.7 L1627.9,1425.1 L1628.8,1424.8 L1629.6,1415.4 L1630.4,1427.3 L1631.2,1421.1 L1632.1,1427.2 L1632.9,1431.8 L1633.7,1432.0 L1634.5,1434.9 L1635.4,1428.7 L1636.2,1433.9 L1637.0,1432.7 L1637.8,1420.6 L1638.7,1430.6 L1639.5,1421.3 L1640.3,1427.5 L1641.2,1423.2 L1642.0,1434.9 L1642.8,1428.8 L1643.6,1417.1 L1644.5,1423.8 L1645.3,1422.7 L1646.1,1428.4 L1646.9,1423.7 L1647.8,1438.9 L1648.6,1437.0 L1649.4,1427.0 L1650.2,1424.1 L1651.1,1433.9 L1651.9,1432.1 L1652.7,1450.0 L1653.5,1432.1 L1654.4,1439.2 L1655.2,1440.3 L1656.0,1431.2 L1656.8,1441.5 L1657.7,1437.9 L1658.5,1435.7 L1659.3,1438.3 L1660.1,1428.5 L1661.0,1434.1 L1661.8,1412.6 L1662.6,1437.9 L1663.4,1436.1 L1664.3,1426.1 L1665.1,1427.2 L1665.9,1433.9 L1666.7,1427.0 L1667.6,1428.4 L1668.4,1428.6 L1669.2,1419.2 L1670.0,1433.0 L1670.9,1426.2 L1671.7,1426.1 L1672.5,1431.4 L1673.3,1437.7 L1674.2,1423.6 L1675.0,1426.8 L1675.8,1428.5 L1676.6,1428.5 L1677.5,1428.4 L1678.3,1435.2 L1679.1,1425.8 L1679.9,1439.0 L1680.8,1428.0 L1681.6,1437.5 L1682.4,1430.2 L1683.2,1421.4 L1684.1,1429.0 L1684.9,1430.4 L1685.7,1422.0 L1686.6,1428.1 L1687.4,1428.9 L1688.2,1428.4 L1689.0,1414.4 L1689.9,1419.0 L1690.7,1419.9 L1691.5,1431.8 L1692.3,1417.8 L1693.2,1431.1 L1694.0,1407.2 L1694.8,1429.0 L1695.6,1408.3 L1696.5,1429.9 L1697.3,1409.6 L1698.1,1411.3 L1698.9,1427.5 L1699.8,1417.6 L1700.6,1404.4 L1701.4,1404.8 L1702.2,1422.3 L1703.1,1414.6 L1703.9,1417.1 L1704.7,1414.6 L1705.5,1410.2 L1706.4,1391.5 L1707.2,1399.7 L1708.0,1400.3 L1708.8,1398.5 L1709.7,1387.5 L1710.5,1384.2 L1711.3,1393.2 L1712.1,1372.5 L1713.0,1386.5 L1713.8,1376.8 L1714.6,1366.3 L1715.4,1354.2 L1716.3,1363.3 L1717.1,1353.2 L1717.9,1341.2 L1718.7,1340.8 L1719.6,1333.0 L1720.4,1329.7 L1721.2,1332.0 L1722.0,1328.1 L1722.9,1327.3 L1723.7,1328.8 L1724.5,1327.2 L1725.3,1341.5 L1726.2,1347.2 L1727.0,1339.6 L1727.8,1354.0 L1728.6,1370.8 L1729.5,1370.3 L1730.3,1372.3 L1731.1,1391.2 L1731.9,1386.2 L1732.8,1398.1 L1733.6,1402.2 L1734.4,1405.4 L1735.3,1399.7 L1736.1,1418.8 L1736.9,1416.1 L1737.7,1409.8 L1738.6,1425.5 L1739.4,1428.6 L1740.2,1415.3 L1741.0,1421.2 L1741.9,1423.5 L1742.7,1422.0 L1743.5,1431.3 L1744.3,1411.1 L1745.2,1432.8 L1746.0,1429.7 L1746.8,1436.2 L1747.6,1430.6 L1748.5,1417.2 L1749.3,1427.9 L1750.1,1423.6 L1750.9,1432.6 L1751.8,1417.5 L1752.6,1427.9 L1753.4,1438.2 L1754.2,1423.7 L1755.1,1433.0 L1755.9,1425.2 L1756.7,1429.2 L1757.5,1428.3 L1758.4,1429.5 L1759.2,1437.5 L1760.0,1440.6 L1760.8,1423.5 L1761.7,1432.2 L1762.5,1428.8 L1763.3,1435.0 L1764.1,1442.7 L1765.0,1440.2 L1765.8,1421.6 L1766.6,1437.5 L1767.4,1434.7 L1768.3,1441.2 L1769.1,1435.9 L1769.9,1434.7 L1770.7,1433.5 L1771.6,1432.4 L1772.4,1436.7 L1773.2,1436.4 L1774.0,1431.9 L1774.9,1429.2 L1775.7,1433.1 L1776.5,1420.6 L1777.3,1430.2 L1778.2,1430.6 L1779.0,1437.1 L1779.8,1424.1 L1780.6,1439.4 L1781.5,1442.2 L1782.3,1439.2 L1783.1,1427.0 L1784.0,1440.1 L1784.8,1422.7 L1785.6,1432.2 L1786.4,1441.8 L1787.3,1433.9 L1788.1,1445.4 L1788.9,1438.5 L1789.7,1441.0 L1790.6,1427.9 L1791.4,1422.7 L1792.2,1424.3 L1793.0,1434.8 L1793.9,1430.5 L1794.7,1429.4 L1795.5,1423.4 L1796.3,1419.6 L1797.2,1433.0 L1798.0,1422.7 L1798.8,1434.9 L1799.6,1427.3 L1800.5,1439.0 L1801.3,1438.0 L1802.1,1428.7 L1802.9,1438.8 L1803.8,1425.2 L1804.6,1436.5 L1805.4,1431.4 L1806.2,1432.8 L1807.1,1434.8 L1807.9,1431.0 L1808.7,1424.0 L1809.5,1418.1 L1810.4,1440.4 L1811.2,1429.6 L1812.0,1433.5 L1812.8,1438.9 L1813.7,1429.7 L1814.5,1438.7 L1815.3,1432.7 L1816.1,1423.0 L1817.0,1443.4 L1817.8,1430.0 L1818.6,1428.4 L1819.4,1439.2 L1820.3,1427.8 L1821.1,1429.2 L1821.9,1434.9 L1822.7,1423.2 L1823.6,1441.0 L1824.4,1426.9 L1825.2,1434.0 L1826.0,1439.7 L1826.9,1433.6 L1827.7,1434.9 L1828.5,1425.6 L1829.3,1441.8 L1830.2,1433.7 L1831.0,1435.8 L1831.8,1421.5 L1832.7,1440.1 L1833.5,1424.1 L1834.3,1442.7 L1835.1,1429.3 L1836.0,1433.2 L1836.8,1429.0 L1837.6,1437.6 L1838.4,1443.3 L1839.3,1442.0 L1840.1,1422.7 L1840.9,1430.4 L1841.7,1438.6 L1842.6,1425.2 L1843.4,1437.9 L1844.2,1437.9 L1845.0,1440.6 L1845.9,1423.5 L1846.7,1420.1 L1847.5,1439.3 L1848.3,1429.8 L1849.2,1424.7 L1850.0,1419.7 L1850.8,1444.2 L1851.6,1431.1 L1852.5,1427.0 L1853.3,1441.8 L1854.1,1411.2 L1854.9,1430.6 L1855.8,1426.5 L1856.6,1436.8 L1857.4,1428.8 L1858.2,1437.0 L1859.1,1427.4 L1859.9,1431.0 L1860.7,1435.3 L1861.5,1441.6 L1862.4,1421.3 L1863.2,1423.9 L1864.0,1425.4 L1864.8,1437.4 L1865.7,1435.1 L1866.5,1421.2 L1867.3,1426.3 L1868.1,1438.7 L1869.0,1431.9 L1869.8,1431.1 L1870.6,1433.9 L1871.4,1439.2 L1872.3,1423.1 L1873.1,1427.5 L1873.9,1433.9 L1874.7,1442.1 L1875.6,1436.8 L1876.4,1432.3 L1877.2,1425.4 L1878.0,1435.2 L1878.9,1423.9 L1879.7,1431.0 L1880.5,1437.9 L1881.4,1444.7 L1882.2,1440.4 L1883.0,1441.8 L1883.8,1433.4 L1884.7,1429.4 L1885.5,1422.3 L1886.3,1432.3 L1887.1,1440.3 L1888.0,1419.2 L1888.8,1429.6 L1889.6,1434.3 L1890.4,1434.3 L1891.3,1441.2 L1892.1,1427.0 L1892.9,1429.0 L1893.7,1421.4 L1894.6,1423.8 L1895.4,1425.3 L1896.2,1423.0 L1897.0,1434.4 L1897.9,1435.6 L1898.7,1432.5 L1899.5,1440.7 L1900.3,1433.2 L1901.2,1434.7 L1902.0,1426.7 L1902.8,1432.1 L1903.6,1443.1 L1904.5,1431.8 L1905.3,1422.1 L1906.1,1442.9 L1906.9,1437.8 L1907.8,1431.8 L1908.6,1441.0 L1909.4,1436.3 L1910.2,1431.5 L1911.1,1440.9 L1911.9,1429.5 L1912.7,1428.6 L1913.5,1440.7 L1914.4,1431.7 L1915.2,1423.9 L1916.0,1433.4 L1916.8,1428.3 L1917.7,1426.7 L1918.5,1433.8 L1919.3,1424.4 L1920.1,1428.7 L1921.0,1439.2 L1921.8,1427.6 L1922.6,1425.1 L1923.4,1425.5 L1924.3,1436.9 L1925.1,1428.1 L1925.9,1422.2 L1926.7,1429.9 L1927.6,1423.2 L1928.4,1422.6 L1929.2,1432.1 L1930.1,1426.5 L1930.9,1434.1 L1931.7,1423.8 L1932.5,1432.5 L1933.4,1436.1 L1934.2,1431.9 L1935.0,1432.3 L1935.8,1428.6 L1936.7,1427.9 L1937.5,1440.0 L1938.3,1436.8 L1939.1,1428.7 L1940.0,1427.8 L1940.8,1431.0 L1941.6,1418.6 L1942.4,1423.5 L1943.3,1432.3 L1944.1,1425.9 L1944.9,1422.3 L1945.7,1428.6 L1946.6,1442.4 L1947.4,1430.8 L1948.2,1431.2 L1949.0,1419.5 L1949.9,1442.7 L1950.7,1421.3 L1951.5,1432.8 L1952.3,1424.5 L1953.2,1433.9 L1954.0,1430.0 L1954.8,1423.3 L1955.6,1430.8 L1956.5,1423.7 L1957.3,1432.1 L1958.1,1434.8 L1958.9,1433.3 L1959.8,1435.5 L1960.6,1432.4 L1961.4,1422.1 L1962.2,1439.9 L1963.1,1442.1 L1963.9,1431.6 L1964.7,1420.8 L1965.5,1423.7 L1966.4,1422.2 L1967.2,1422.6 L1968.0,1437.1 L1968.8,1430.4 L1969.7,1444.4 L1970.5,1436.2 L1971.3,1426.5 L1972.1,1441.6 L1973.0,1443.3 L1973.8,1440.5 L1974.6,1429.5 L1975.5,1423.0 L1976.3,1418.6 L1977.1,1421.7 L1977.9,1441.4 L1978.8,1443.8 L1979.6,1430.0 L1980.4,1423.5 L1981.2,1441.8 L1982.1,1435.4 L1982.9,1434.8 L1983.7,1430.9 L1984.5,1432.6 L1985.4,1427.0 L1986.2,1423.4 L1987.0,1430.5 L1987.8,1425.3 L1988.7,1419.7 L1989.5,1438.7 L1990.3,1438.9 L1991.1,1426.9 L1992.0,1420.1 L1992.8,1429.6 L1993.6,1423.2 L1994.4,1433.5 L1995.3,1424.1 L1996.1,1436.0 L1996.9,1425.7 L1997.7,1427.7 L1998.6,1427.7 L1999.4,1421.7 L2000.2,1423.2 L2001.0,1435.7 L2001.9,1424.2 L2002.7,1441.9 L2003.5,1423.6 L2004.3,1418.4 L2005.2,1426.5 L2006.0,1426.7 L2006.8,1430.2 L2007.6,1424.5 L2008.5,1434.3 L2009.3,1425.5 L2010.1,1432.8 L2010.9,1434.1 L2011.8,1429.5 L2012.6,1431.0 L2013.4,1441.9 L2014.2,1419.4 L2015.1,1429.3 L2015.9,1441.8 L2016.7,1422.9 L2017.5,1430.7 L2018.4,1428.8 L2019.2,1425.1 L2020.0,1437.5 L2020.8,1444.6 L2021.7,1431.3 L2022.5,1428.5 L2023.3,1423.3 L2024.2,1436.5 L2025.0,1432.7 L2025.8,1427.3 L2026.6,1433.1 L2027.5,1432.5 L2028.3,1428.4 L2029.1,1438.1 L2029.9,1420.7 L2030.8,1437.7 L2031.6,1430.2 L2032.4,1433.2 L2033.2,1436.1 L2034.1,1426.3 L2034.9,1423.3 L2035.7,1421.2 L2036.5,1426.0 L2037.4,1434.2 L2038.2,1424.1 L2039.0,1440.7 L2039.8,1430.1 L2040.7,1426.4 L2041.5,1426.1 L2042.3,1439.1 L2043.1,1440.9 L2044.0,1420.5 L2044.8,1434.7 L2045.6,1441.6 L2046.4,1439.7 L2047.3,1430.5 L2048.1,1422.5 L2048.9,1430.6 L2049.7,1422.4 L2050.6,1428.8 L2051.4,1426.9 L2052.2,1423.6 L2053.0,1433.8 L2053.9,1428.3 L2054.7,1433.9 L2055.5,1435.8 L2056.3,1425.7 L2057.2,1437.2 L2058.0,1430.1 L2058.8,1437.0 L2059.6,1450.7 L2060.5,1435.1 L2061.3,1423.0 L2062.1,1430.1 L2062.9,1430.2 L2063.8,1420.7 L2064.6,1444.5 L2065.4,1439.2 L2066.2,1444.3 L2067.1,1431.0 L2067.9,1427.4 L2068.7,1426.0 L2069.5,1428.8 L2070.4,1437.7 L2071.2,1413.2 L2072.0,1428.5 L2072.9,1433.2 L2073.7,1439.3 L2074.5,1427.7 L2075.3,1435.0 L2076.2,1434.7 L2077.0,1429.4 L2077.8,1429.3 L2078.6,1437.4 L2079.5,1422.4 L2080.3,1438.6 L2081.1,1439.3 L2081.9,1428.6 L2082.8,1430.0 L2083.6,1430.5 L2084.4,1434.4 L2085.2,1430.7 L2086.1,1435.6 L2086.9,1441.7 L2087.7,1425.4 L2088.5,1438.6 L2089.4,1432.9 L2090.2,1425.4 L2091.0,1430.8 L2091.8,1418.2 L2092.7,1440.5 L2093.5,1436.8 L2094.3,1430.2 L2095.1,1421.7 L2096.0,1432.9 L2096.8,1440.6 L2097.6,1422.6 L2098.4,1437.8 L2099.3,1432.4 L2100.1,1424.1 L2100.9,1436.0 L2101.7,1434.3 L2102.6,1426.7 L2103.4,1432.3 L2104.2,1428.2 L2105.0,1437.6 L2105.9,1431.5 L2106.7,1438.4 L2107.5,1440.6 L2108.3,1419.5 L2109.2,1426.6 L2110.0,1423.3 L2110.8,1437.3 L2111.6,1430.2 L2112.5,1431.6 L2113.3,1439.4 L2114.1,1425.4 L2114.9,1435.2 L2115.8,1431.1 L2116.6,1439.4 L2117.4,1421.8 L2118.2,1423.2 L2119.1,1425.7 L2119.9,1435.6 L2120.7,1432.8 L2121.6,1419.7 L2122.4,1430.4 L2123.2,1425.7 L2124.0,1426.4 L2124.9,1435.4 L2125.7,1417.0 L2126.5,1438.2 L2127.3,1424.5 L2128.2,1426.6 L2129.0,1435.9 L2129.8,1422.3 L2130.6,1420.3 L2131.5,1423.5 L2132.3,1429.6 L2133.1,1418.9 L2133.9,1413.8 L2134.8,1419.2 L2135.6,1409.4 L2136.4,1412.6 L2137.2,1412.2 L2138.1,1407.6 L2138.9,1421.1 L2139.7,1418.8 L2140.5,1409.2 L2141.4,1407.9 L2142.2,1400.8 L2143.0,1401.3 L2143.8,1407.0 L2144.7,1405.8 L2145.5,1408.2 L2146.3,1407.3 L2147.1,1406.5 L2148.0,1404.5 L2148.8,1408.1 L2149.6,1409.1 L2150.4,1406.5 L2151.3,1412.7 L2152.1,1411.7 L2152.9,1423.2 L2153.7,1409.3 L2154.6,1416.1 L2155.4,1413.3 L2156.2,1413.1 L2157.0,1399.9 L2157.9,1406.0 L2158.7,1417.9 L2159.5,1418.6 L2160.3,1432.1 L2161.2,1416.7 L2162.0,1418.9 L2162.8,1425.7 L2163.6,1421.3 L2164.5,1415.2 L2165.3,1427.0 L2166.1,1431.7 L2166.9,1416.3 L2167.8,1423.2 L2168.6,1427.1 L2169.4,1414.6 L2170.3,1425.0 L2171.1,1427.9 L2171.9,1424.6 L2172.7,1430.3 L2173.6,1425.5 L2174.4,1426.2 L2175.2,1432.9 L2176.0,1429.9 L2176.9,1425.5 L2177.7,1425.1 L2178.5,1423.8 L2179.3,1422.6 L2180.2,1426.6 L2181.0,1424.7 L2181.8,1431.9 L2182.6,1431.0 L2183.5,1421.7 L2184.3,1441.3 L2185.1,1426.3 L2185.9,1416.9 L2186.8,1441.2 L2187.6,1420.1 L2188.4,1441.0 L2189.2,1426.8 L2190.1,1419.9 L2190.9,1420.5 L2191.7,1437.0 L2192.5,1439.4 L2193.4,1440.1 L2194.2,1424.8 L2195.0,1433.5 L2195.8,1430.3 L2196.7,1428.4 L2197.5,1427.2 L2198.3,1426.3 L2199.1,1429.6 L2200.0,1441.2 L2200.8,1421.2 L2201.6,1444.0 L2202.4,1422.2 L2203.3,1435.6 L2204.1,1432.4 L2204.9,1435.0 L2205.7,1433.9 L2206.6,1431.1 L2207.4,1433.2 L2208.2,1439.0 L2209.0,1424.6 L2209.9,1435.6 L2210.7,1421.9 L2211.5,1432.3 L2212.3,1436.6 L2213.2,1427.5 L2214.0,1447.4 L2214.8,1438.0 L2215.6,1433.4 L2216.5,1421.6 L2217.3,1438.5 L2218.1,1437.6 L2219.0,1429.7 L2219.8,1439.8 L2220.6,1443.9 L2221.4,1441.8 L2222.3,1428.1 L2223.1,1426.0 L2223.9,1426.5 L2224.7,1428.0 L2225.6,1439.9 L2226.4,1425.9 L2227.2,1423.0 L2228.0,1436.6 L2228.9,1424.2 L2229.7,1434.1 L2230.5,1429.6 L2231.3,1428.2 L2232.2,1441.3 L2233.0,1421.3 L2233.8,1437.9 L2234.6,1432.0 L2235.5,1435.3 L2236.3,1427.3 L2237.1,1427.5 L2237.9,1430.9 L2238.8,1421.2 L2239.6,1428.7 L2240.4,1434.6 L2241.2,1445.5 L2242.1,1433.6 L2242.9,1433.7 L2243.7,1438.4 L2244.5,1438.4 L2245.4,1426.0 L2246.2,1422.7 L2247.0,1418.8 L2247.8,1422.1 L2248.7,1437.4 L2249.5,1428.8 L2250.3,1441.8 L2251.1,1424.7 L2252.0,1427.8 L2252.8,1436.7 L2253.6,1432.1 L2254.4,1433.5 L2255.3,1437.0 L2256.1,1420.6 L2256.9,1415.8 L2257.7,1423.7 L2258.6,1422.0 L2259.4,1429.5 L2260.2,1434.5 L2261.0,1416.9 L2261.9,1434.7 L2262.7,1427.2 L2263.5,1432.3 L2264.4,1425.4 L2265.2,1431.6 L2266.0,1425.3 L2266.8,1442.3 L2267.7,1432.1 L2268.5,1419.5 L2269.3,1440.8 L2270.1,1437.7 L2271.0,1419.3 L2271.8,1426.9 L2272.6,1421.2 L2273.4,1446.9 L2274.3,1429.5 L2275.1,1442.7 L2275.9,1443.4 L2276.7,1426.8 L2277.6,1420.3 L2278.4,1444.1 L2279.2,1441.6 L2280.0,1437.1 L2280.9,1432.4 L2281.7,1443.2 L2282.5,1415.5 L2283.3,1425.0 L2284.2,1434.9 L2285.0,1436.6 L2285.8,1415.2 L2286.6,1415.4 L2287.5,1436.3 L2288.3,1427.4 L2289.1,1419.6 L2289.9,1442.5 L2290.8,1437.4 L2291.6,1419.0 L2292.4,1438.4 L2293.2,1435.8 L2294.1,1443.7 L2294.9,1439.1 L2295.7,1424.0 L2296.5,1439.8 L2297.4,1443.5 L2298.2,1438.0 L2299.0,1416.6 L2299.8,1429.3 L2300.7,1437.4 L2301.5,1429.6 L2302.3,1426.4 L2303.1,1429.9 L2304.0,1446.5 L2304.8,1428.0 L2305.6,1433.7 L2306.4,1422.5 L2307.3,1444.2 L2308.1,1420.8 L2308.9,1436.9 L2309.7,1446.2 L2310.6,1418.7 L2311.4,1437.1 L2312.2,1427.2"/>
<path id="curve-red" stroke="#f00" d="M386.5,1422.1 L387.3,1427.7 L388.2,1432.5 L389.0,1457.7 L389.8,1424.1 L390.6,1456.9 L391.5,1416.9 L392.3,1473.3 L393.1,1418.0 L393.9,1418.0 L394.8,1426.3 L395.6,1396.0 L396.4,1436.8 L397.2,1410.3 L398.1,1441.4 L398.9,1435.5 L399.7,1443.5 L400.5,1440.3 L401.4,1436.8 L402.2,1427.0 L403.0,1436.6 L403.8,1437.6 L404.7,1441.9 L405.5,1374.0 L406.3,1451.2 L407.1,1430.6 L408.0,1412.2 L408.8,1444.1 L409.6,1432.3 L410.4,1403.7 L411.3,1447.2 L412.1,1389.3 L412.9,1438.8 L413.7,1408.0 L414.6,1406.6 L415.4,1449.8 L416.2,1421.8 L417.0,1431.4 L417.9,1441.4 L418.7,1455.9 L419.5,1415.4 L420.3,1445.4 L421.2,1426.3 L422.0,1430.1 L422.8,1407.6 L423.6,1413.6 L424.5,1449.1 L425.3,1436.1 L426.1,1415.3 L426.9,1451.0 L427.8,1438.3 L428.6,1427.5 L429.4,1453.6 L430.2,1450.0 L431.1,1454.2 L431.9,1426.5 L432.7,1441.0 L433.5,1416.7 L434.4,1429.5 L435.2,1421.8 L436.0,1433.0 L436.9,1419.1 L437.7,1433.3 L438.5,1447.0 L439.3,1413.6 L440.2,1416.0 L441.0,1405.6 L441.8,1434.0 L442.6,1441.3 L443.5,1452.1 L444.3,1460.7 L445.1,1450.8 L445.9,1423.2 L446.8,1445.8 L447.6,1458.6 L448.4,1421.3 L449.2,1441.5 L450.1,1437.7 L450.9,1438.9 L451.7,1433.9 L452.5,1466.0 L453.4,1454.4 L454.2,1435.5 L455.0,1440.2 L455.8,1414.1 L456.7,1447.7 L457.5,1409.3 L458.3,1421.3 L459.1,1409.4 L460.0,1443.2 L460.8,1418.4 L461.6,1425.2 L462.4,1452.5 L463.3,1436.0 L464.1,1439.2 L464.9,1446.8 L465.7,1444.1 L466.6,1452.0 L467.4,1439.5 L468.2,1425.7 L469.0,1444.2 L469.9,1453.1 L470.7,1415.2 L471.5,1437.9 L472.3,1431.0 L473.2,1435.6 L474.0,1440.6 L474.8,1467.3 L475.6,1440.5 L476.5,1431.0 L477.3,1452.0 L478.1,1453.7 L478.9,1438.2 L479.8,1407.5 L480.6,1428.3 L481.4,1407.3 L482.2,1423.8 L483.1,1423.8 L483.9,1441.3 L484.7,1431.9 L485.6,1408.2 L486.4,1413.6 L487.2,1379.6 L488.0,1439.5 L488.9,1412.0 L489.7,1440.2 L490.5,1416.8 L491.3,1446.0 L492.2,1421.0 L493.0,1410.3 L493.8,1418.0 L494.6,1427.3 L495.5,1429.1 L496.3,1433.0 L497.1,1431.9 L497.9,1413.7 L498.8,1414.0 L499.6,1424.5 L500.4,1450.2 L501.2,1440.3 L502.1,1426.4 L502.9,1430.6 L503.7,1451.1 L504.5,1420.5 L505.4,1404.5 L506.2,1449.8 L507.0,1430.4 L507.8,1409.5 L508.7,1438.6 L509.5,1438.5 L510.3,1428.6 L511.1,1422.0 L512.0,1438.5 L512.8,1416.1 L513.6,1455.5 L514.4,1420.6 L515.3,1425.2 L516.1,1434.3 L516.9,1424.9 L517.7,1430.7 L518.6,1412.1 L519.4,1439.4 L520.2,1432.2 L521.0,1451.4 L521.9,1448.7 L522.7,1435.7 L523.5,1452.9 L524.3,1445.2 L525.2,1450.8 L526.0,1439.9 L526.8,1429.5 L527.6,1396.6 L528.5,1455.6 L529.3,1435.0 L530.1,1417.6 L531.0,1411.6 L531.8,1411.4 L532.6,1451.9 L533.4,1440.2 L534.3,1457.3 L535.1,1416.6 L535.9,1426.6 L536.7,1426.9 L537.6,1427.3 L538.4,1444.0 L539.2,1428.7 L540.0,1418.3 L540.9,1437.3 L541.7,1413.8 L542.5,1459.1 L543.3,1437.1 L544.2,1408.9 L545.0,1417.5 L545.8,1411.0 L546.6,1428.9 L547.5,1466.6 L548.3,1440.1 L549.1,1410.3 L549.9,1454.9 L550.8,1446.4 L551.6,1454.0 L552.4,1440.3 L553.2,1438.5 L554.1,1421.5 L554.9,1444.5 L555.7,1408.5 L556.5,1420.3 L557.4,1439.0 L558.2,1396.6 L559.0,1451.6 L559.8,1428.4 L560.7,1406.1 L561.5,1471.3 L562.3,1445.9 L563.1,1430.6 L564.0,1437.9 L564.8,1443.1 L565.6,1452.0 L566.4,1428.5 L567.3,1405.9 L568.1,1407.3 L568.9,1408.9 L569.7,1419.0 L570.6,1412.6 L571.4,1402.2 L572.2,1415.3 L573.0,1405.0 L573.9,1410.6 L574.7,1379.3 L575.5,1399.3 L576.3,1367.3 L577.2,1359.2 L578.0,1356.1 L578.8,1357.1 L579.7,1371.6 L580.5,1386.1 L581.3,1396.2 L582.1,1405.1 L583.0,1423.1 L583.8,1419.0 L584.6,1426.2 L585.4,1433.8 L586.3,1415.0 L587.1,1435.5 L587.9,1420.3 L588.7,1405.3 L589.6,1404.5 L590.4,1427.2 L591.2,1412.3 L592.0,1424.3 L592.9,1403.1 L593.7,1407.5 L594.5,1412.8 L595.3,1464.0 L596.2,1434.5 L597.0,1421.2 L597.8,1431.0 L598.6,1434.8 L599.5,1419.3 L600.3,1449.4 L601.1,1455.5 L601.9,1446.8 L602.8,1448.6 L603.6,1432.5 L604.4,1445.1 L605.2,1434.5 L606.1,1455.8 L606.9,1410.6 L607.7,1424.4 L608.5,1445.1 L609.4,1425.8 L610.2,1390.0 L611.0,1417.8 L611.8,1432.8 L612.7,1421.0 L613.5,1417.2 L614.3,1449.4 L615.1,1451.8 L616.0,1441.3 L616.8,1415.9 L617.6,1410.7 L618.4,1429.0 L619.3,1410.4 L620.1,1415.7 L620.9,1432.5 L621.7,1383.6 L622.6,1442.0 L623.4,1475.3 L624.2,1411.3 L625.0,1417.8 L625.9,1450.4 L626.7,1449.6 L627.5,1418.2 L628.4,1427.9 L629.2,1446.3 L630.0,1420.1 L630.8,1411.7 L631.7,1418.4 L632.5,1429.4 L633.3,1412.0 L634.1,1437.9 L635.0,1441.2 L635.8,1445.9 L636.6,1407.6 L637.4,1406.4 L638.3,1431.9 L639.1,1421.3 L639.9,1423.5 L640.7,1416.5 L641.6,1413.4 L642.4,1420.0 L643.2,1432.7 L644.0,1439.9 L644.9,1447.1 L645.7,1458.3 L646.5,1432.8 L647.3,1444.6 L648.2,1430.6 L649.0,1433.0 L649.8,1447.2 L650.6,1439.6 L651.5,1424.1 L652.3,1428.2 L653.1,1445.3 L653.9,1443.5 L654.8,1421.7 L655.6,1427.1 L656.4,1425.9 L657.2,1434.0 L658.1,1401.9 L658.9,1429.5 L659.7,1404.9 L660.5,1439.1 L661.4,1442.7 L662.2,1409.2 L663.0,1432.2 L663.8,1443.6 L664.7,1423.5 L665.5,1456.8 L666.3,1423.1 L667.1,1430.2 L668.0,1425.9 L668.8,1443.4 L669.6,1411.4 L670.4,1424.9 L671.3,1430.5 L672.1,1423.9 L672.9,1443.4 L673.7,1432.1 L674.6,1450.7 L675.4,1446.5 L676.2,1424.5 L677.1,1427.4 L677.9,1417.3 L678.7,1440.2 L679.5,1431.1 L680.4,1440.3 L681.2,1424.6 L682.0,1416.2 L682.8,1412.4 L683.7,1419.1 L684.5,1441.3 L685.3,1424.8 L686.1,1444.2 L687.0,1451.9 L687.8,1425.0 L688.6,1461.3 L689.4,1415.5 L690.3,1414.2 L691.1,1445.4 L691.9,1441.3 L692.7,1426.9 L693.6,1425.3 L694.4,1419.4 L695.2,1444.9 L696.0,1430.1 L696.9,1414.9 L697.7,1472.0 L698.5,1443.2 L699.3,1402.7 L700.2,1388.7 L701.0,1443.9 L701.8,1404.1 L702.6,1439.1 L703.5,1439.8 L704.3,1410.1 L705.1,1405.2 L705.9,1419.4 L706.8,1431.4 L707.6,1439.3 L708.4,1416.1 L709.2,1442.3 L710.1,1465.3 L710.9,1398.1 L711.7,1402.7 L712.5,1393.2 L713.4,1402.7 L714.2,1424.6 L715.0,1397.5 L715.8,1425.7 L716.7,1388.9 L717.5,1377.6 L718.3,1409.3 L719.1,1374.2 L720.0,1385.3 L720.8,1384.0 L721.6,1399.4 L722.4,1372.6 L723.3,1349.2 L724.1,1377.3 L724.9,1354.6 L725.8,1347.9 L726.6,1346.3 L727.4,1295.6 L728.2,1296.3 L729.1,1278.3 L729.9,1243.2 L730.7,1246.9 L731.5,1178.6 L732.4,1182.8 L733.2,1154.9 L734.0,1084.1 L734.8,1038.7 L735.7,1004.3 L736.5,942.6 L737.3,851.6 L738.1,797.2 L739.0,741.0 L739.8,699.0 L740.6,685.5 L741.4,684.0 L742.3,715.9 L743.1,754.1 L743.9,835.3 L744.7,873.8 L745.6,944.3 L746.4,982.1 L747.2,1064.5 L748.0,1088.4 L748.9,1140.0 L749.7,1164.8 L750.5,1212.4 L751.3,1234.7 L752.2,1290.6 L753.0,1303.3 L753.8,1285.6 L754.6,1308.9 L755.5,1316.3 L756.3,1344.1 L757.1,1336.8 L757.9,1363.8 L758.8,1366.2 L759.6,1354.0 L760.4,1361.4 L761.2,1390.1 L762.1,1386.6 L762.9,1387.5 L763.7,1397.6 L764.5,1400.2 L765.4,1416.2 L766.2,1394.8 L767.0,1422.6 L767.8,1423.7 L768.7,1392.4 L769.5,1375.0 L770.3,1391.1 L771.1,1409.5 L772.0,1374.5 L772.8,1406.1 L773.6,1398.2 L774.5,1374.0 L775.3,1427.7 L776.1,1443.8 L776.9,1374.5 L777.8,1401.1 L778.6,1444.2 L779.4,1375.5 L780.2,1429.9 L781.1,1421.2 L781.9,1444.5 L782.7,1416.8 L783.5,1417.1 L784.4,1425.6 L785.2,1437.3 L786.0,1433.6 L786.8,1451.3 L787.7,1417.7 L788.5,1436.8 L789.3,1447.7 L790.1,1429.2 L791.0,1420.5 L791.8,1456.0 L792.6,1418.8 L793.4,1411.8 L794.3,1437.9 L795.1,1426.2 L795.9,1425.2 L796.7,1449.5 L797.6,1413.2 L798.4,1435.3 L799.2,1425.7 L800.0,1424.9 L800.9,1442.8 L801.7,1417.0 L802.5,1415.1 L803.3,1427.3 L804.2,1456.9 L805.0,1410.9 L805.8,1432.8 L806.6,1440.7 L807.5,1439.8 L808.3,1446.4 L809.1,1436.5 L809.9,1420.3 L810.8,1446.8 L811.6,1426.9 L812.4,1440.1 L813.2,1434.8 L814.1,1436.7 L814.9,1425.4 L815.7,1415.1 L816.5,1430.8 L817.4,1416.6 L818.2,1410.1 L819.0,1450.3 L819.9,1418.1 L820.7,1435.6 L821.5,1433.7 L822.3,1415.6 L823.2,1434.5 L824.0,1406.5 L824.8,1412.3 L825.6,1414.7 L826.5,1423.6 L827.3,1403.6 L828.1,1445.4 L828.9,1451.6 L829.8,1434.0 L830.6,1447.1 L831.4,1424.2 L832.2,1439.9 L833.1,1440.1 L833.9,1430.2 L834.7,1443.5 L835.5,1453.6 L836.4,1442.0 L837.2,1419.2 L838.0,1426.5 L838.8,1416.2 L839.7,1408.8 L840.5,1416.9 L841.3,1431.5 L842.1,1442.3 L843.0,1422.9 L843.8,1409.4 L844.6,1411.0 L845.4,1416.2 L846.3,1443.1 L847.1,1421.1 L847.9,1419.3 L848.7,1412.9 L849.6,1459.3 L850.4,1441.7 L851.2,1428.3 L852.0,1428.5 L852.9,1396.6 L853.7,1422.5 L854.5,1435.5 L855.3,1414.3 L856.2,1438.6 L857.0,1427.4 L857.8,1454.7 L858.6,1427.3 L859.5,1441.3 L860.3,1397.9 L861.1,1433.6 L861.9,1413.2 L862.8,1439.4 L863.6,1450.4 L864.4,1426.8 L865.2,1421.5 L866.1,1442.5 L866.9,1449.1 L867.7,1419.0 L868.6,1415.2 L869.4,1419.3 L870.2,1429.4 L871.0,1454.7 L871.9,1409.8 L872.7,1418.4 L873.5,1444.7 L874.3,1446.8 L875.2,1420.9 L876.0,1419.4 L876.8,1440.7 L877.6,1402.6 L878.5,1416.4 L879.3,1436.1 L880.1,1418.1 L880.9,1447.2 L881.8,1445.8 L882.6,1452.6 L883.4,1431.5 L884.2,1437.5 L885.1,1452.4 L885.9,1428.4 L886.7,1439.5 L887.5,1434.6 L888.4,1411.9 L889.2,1416.5 L890.0,1423.0 L890.8,1436.4 L891.7,1448.1 L892.5,1403.9 L893.3,1437.1 L894.1,1413.3 L895.0,1445.0 L895.8,1439.7 L896.6,1431.2 L897.4,1424.7 L898.3,1415.2 L899.1,1412.6 L899.9,1433.5 L900.7,1408.1 L901.6,1420.5 L902.4,1443.2 L903.2,1445.6 L904.0,1437.8 L904.9,1435.2 L905.7,1418.9 L906.5,1443.6 L907.3,1440.1 L908.2,1444.0 L909.0,1426.7 L909.8,1450.6 L910.6,1422.3 L911.5,1443.3 L912.3,1434.6 L913.1,1424.1 L913.9,1426.2 L914.8,1468.6 L915.6,1444.8 L916.4,1454.7 L917.3,1449.2 L918.1,1418.4 L918.9,1446.7 L919.7,1416.0 L920.6,1434.7 L921.4,1419.6 L922.2,1451.1 L923.0,1415.8 L923.9,1414.5 L924.7,1445.1 L925.5,1412.9 L926.3,1405.4 L927.2,1431.1 L928.0,1445.1 L928.8,1440.5 L929.6,1435.8 L930.5,1416.2 L931.3,1408.9 L932.1,1437.8 L932.9,1434.8 L933.8,1449.9 L934.6,1439.4 L935.4,1423.5 L936.2,1454.2 L937.1,1420.3 L937.9,1417.6 L938.7,1414.0 L939.5,1440.1 L940.4,1451.3 L941.2,1435.6 L942.0,1446.2 L942.8,1452.6 L943.7,1442.7 L944.5,1449.8 L945.3,1408.5 L946.1,1403.3 L947.0,1403.3 L947.8,1446.9 L948.6,1412.6 L949.4,1437.1 L950.3,1418.3 L951.1,1445.9 L951.9,1421.4 L952.7,1451.9 L953.6,1433.9 L954.4,1456.0 L955.2,1449.4 L956.0,1430.6 L956.9,1439.9 L957.7,1437.3 L958.5,1419.8 L959.3,1413.4 L960.2,1403.9 L961.0,1413.6 L961.8,1416.6 L962.6,1419.8 L963.5,1411.0 L964.3,1450.4 L965.1,1413.2 L966.0,1425.1 L966.8,1465.3 L967.6,1433.7 L968.4,1416.4 L969.3,1414.5 L970.1,1420.2 L970.9,1447.1 L971.7,1449.9 L972.6,1430.2 L973.4,1421.3 L974.2,1441.4 L975.0,1418.0 L975.9,1421.6 L976.7,1423.4 L977.5,1442.3 L978.3,1414.1 L979.2,1417.0 L980.0,1413.0 L980.8,1424.9 L981.6,1447.9 L982.5,1424.9 L983.3,1418.2 L984.1,1433.0 L984.9,1446.6 L985.8,1422.3 L986.6,1421.2 L987.4,1447.7 L988.2,1441.6 L989.1,1449.5 L989.9,1425.8 L990.7,1428.1 L991.5,1410.4 L992.4,1444.1 L993.2,1413.5 L994.0,1457.3 L994.8,1426.8 L995.7,1447.5 L996.5,1430.6 L997.3,1439.0 L998.1,1432.7 L999.0,1428.2 L999.8,1423.6 L1000.6,1419.0 L1001.4,1431.3 L1002.3,1443.8 L1003.1,1416.7 L1003.9,1429.7 L1004.7,1440.0 L1005.6,1413.4 L1006.4,1426.5 L1007.2,1420.4 L1008.0,1451.1 L1008.9,1440.1 L1009.7,1409.7 L1010.5,1423.7 L1011.3,1424.0 L1012.2,1440.7 L1013.0,1432.9 L1013.8,1425.9 L1014.7,1432.0 L1015.5,1432.5 L1016.3,1448.7 L1017.1,1440.8 L1018.0,1436.8 L1018.8,1424.1 L1019.6,1424.8 L1020.4,1431.3 L1021.3,1439.4 L1022.1,1439.2 L1022.9,1428.3 L1023.7,1444.0 L1024.6,1433.6 L1025.4,1434.6 L1026.2,1434.0 L1027.0,1416.9 L1027.9,1432.8 L1028.7,1422.3 L1029.5,1417.2 L1030.3,1425.6 L1031.2,1431.2 L1032.0,1443.0 L1032.8,1417.1 L1033.6,1442.0 L1034.5,1446.9 L1035.3,1420.7 L1036.1,1444.4 L1036.9,1442.7 L1037.8,1438.8 L1038.6,1402.6 L1039.4,1447.4 L1040.2,1429.4 L1041.1,1426.2 L1041.9,1423.6 L1042.7,1431.9 L1043.5,1435.9 L1044.4,1437.2 L1045.2,1419.8 L1046.0,1422.9 L1046.8,1436.3 L1047.7,1428.2 L1048.5,1442.8 L1049.3,1426.2 L1050.1,1442.0 L1051.0,1433.3 L1051.8,1434.3 L1052.6,1448.5 L1053.4,1424.6 L1054.3,1432.1 L1055.1,1439.7 L1055.9,1439.2 L1056.7,1432.9 L1057.6,1433.6 L1058.4,1427.0 L1059.2,1430.2 L1060.0,1425.3 L1060.9,1429.2 L1061.7,1444.1 L1062.5,1444.2 L1063.4,1426.7 L1064.2,1427.5 L1065.0,1431.8 L1065.8,1443.6 L1066.7,1439.0 L1067.5,1439.9 L1068.3,1424.7 L1069.1,1439.8 L1070.0,1443.8 L1070.8,1439.7 L1071.6,1428.4 L1072.4,1417.7 L1073.3,1436.9 L1074.1,1420.7 L1074.9,1436.4 L1075.7,1436.2 L1076.6,1440.0 L1077.4,1423.3 L1078.2,1436.5 L1079.0,1421.8 L1079.9,1435.6 L1080.7,1416.6 L1081.5,1428.8 L1082.3,1430.5 L1083.2,1442.1 L1084.0,1418.9 L1084.8,1427.6 L1085.6,1430.0 L1086.5,1430.5 L1087.3,1435.9 L1088.1,1436.1 L1088.9,1426.8 L1089.8,1438.6 L1090.6,1432.0 L1091.4,1414.1 L1092.2,1431.7 L1093.1,1433.3 L1093.9,1409.9 L1094.7,1439.8 L1095.5,1417.6 L1096.4,1430.0 L1097.2,1441.1 L1098.0,1431.6 L1098.8,1437.1 L1099.7,1422.8 L1100.5,1434.8 L1101.3,1422.5 L1102.1,1444.9 L1103.0,1434.4 L1103.8,1423.8 L1104.6,1424.4 L1105.4,1429.0 L1106.3,1422.0 L1107.1,1421.7 L1107.9,1429.6 L1108.8,1427.2 L1109.6,1420.5 L1110.4,1427.6 L1111.2,1446.2 L1112.1,1442.9 L1112.9,1436.1 L1113.7,1422.3 L1114.5,1428.6 L1115.4,1422.5 L1116.2,1419.4 L1117.0,1423.5 L1117.8,1438.4 L1118.7,1420.7 L1119.5,1441.3 L1120.3,1440.8 L1121.1,1433.8 L1122.0,1445.0 L1122.8,1415.1 L1123.6,1412.6 L1124.4,1431.0 L1125.3,1433.2 L1126.1,1444.4 L1126.9,1423.6 L1127.7,1436.3 L1128.6,1440.2 L1129.4,1441.3 L1130.2,1430.5 L1131.0,1431.6 L1131.9,1430.6 L1132.7,1435.5 L1133.5,1442.8 L1134.3,1416.1 L1135.2,1420.8 L1136.0,1435.1 L1136.8,1440.7 L1137.6,1438.5 L1138.5,1421.7 L1139.3,1423.5 L1140.1,1425.7 L1140.9,1417.3 L1141.8,1434.3 L1142.6,1415.5 L1143.4,1426.6 L1144.2,1457.3 L1145.1,1422.8 L1145.9,1424.7 L1146.7,1435.0 L1147.5,1404.6 L1148.4,1441.0 L1149.2,1424.9 L1150.0,1423.2 L1150.8,1434.5 L1151.7,1426.7 L1152.5,1414.9 L1153.3,1437.1 L1154.1,1436.7 L1155.0,1430.0 L1155.8,1420.9 L1156.6,1415.2 L1157.5,1419.6 L1158.3,1435.7 L1159.1,1414.3 L1159.9,1417.3 L1160.8,1414.2 L1161.6,1437.1 L1162.4,1436.8 L1163.2,1429.6 L1164.1,1426.9 L1164.9,1421.7 L1165.7,1430.7 L1166.5,1429.5 L1167.4,1414.0 L1168.2,1431.8 L1169.0,1426.1 L1169.8,1413.6 L1170.7,1404.3 L1171.5,1406.9 L1172.3,1394.1 L1173.1,1402.6 L1174.0,1398.4 L1174.8,1398.5 L1175.6,1400.7 L1176.4,1403.4 L1177.3,1403.7 L1178.1,1405.8 L1178.9,1413.9 L1179.7,1401.6 L1180.6,1415.9 L1181.4,1424.7 L1182.2,1414.7 L1183.0,1425.4 L1183.9,1412.2 L1184.7,1448.1 L1185.5,1433.1 L1186.3,1421.1 L1187.2,1419.4 L1188.0,1421.9 L1188.8,1409.7 L1189.6,1426.5 L1190.5,1429.5 L1191.3,1416.3 L1192.1,1428.4 L1192.9,1421.3 L1193.8,1413.7 L1194.6,1427.6 L1195.4,1427.2 L1196.2,1432.2 L1197.1,1422.3 L1197.9,1420.0 L1198.7,1416.4 L1199.5,1419.8 L1200.4,1410.9 L1201.2,1425.1 L1202.0,1425.3 L1202.8,1429.7 L1203.7,1414.9 L1204.5,1425.9 L1205.3,1429.7 L1206.2,1437.9 L1207.0,1428.1 L1207.8,1418.1 L1208.6,1442.3 L1209.5,1436.7 L1210.3,1435.2 L1211.1,1434.4 L1211.9,1426.1 L1212.8,1430.4 L1213.6,1425.1 L1214.4,1423.4 L1215.2,1414.2 L1216.1,1428.9 L1216.9,1422.6 L1217.7,1428.4 L1218.5,1424.3 L1219.4,1429.4 L1220.2,1436.1 L1221.0,1421.6 L1221.8,1415.4 L1222.7,1434.3 L1223.5,1425.7 L1224.3,1425.6 L1225.1,1439.9 L1226.0,1410.0 L1226.8,1412.1 L1227.6,1413.7 L1228.4,1414.9 L1229.3,1432.3 L1230.1,1439.5 L1230.9,1424.3 L1231.7,1422.6 L1232.6,1425.9 L1233.4,1446.7 L1234.2,1413.1 L1235.0,1414.5 L1235.9,1422.0 L1236.7,1426.4 L1237.5,1404.9 L1238.3,1412.3 L1239.2,1418.8 L1240.0,1430.5 L1240.8,1431.2 L1241.6,1398.6 L1242.5,1419.9 L1243.3,1413.5 L1244.1,1417.5 L1244.9,1414.7 L1245.8,1411.2 L1246.6,1404.4 L1247.4,1424.8 L1248.2,1420.8 L1249.1,1399.8 L1249.9,1403.9 L1250.7,1399.9 L1251.5,1412.2 L1252.4,1387.9 L1253.2,1397.1 L1254.0,1398.0 L1254.9,1401.0 L1255.7,1387.2 L1256.5,1383.7 L1257.3,1382.5 L1258.2,1362.7 L1259.0,1359.9 L1259.8,1365.3 L1260.6,1364.5 L1261.5,1355.5 L1262.3,1338.5 L1263.1,1349.9 L1263.9,1318.0 L1264.8,1311.5 L1265.6,1278.5 L1266.4,1274.6 L1267.2,1264.4 L1268.1,1243.5 L1268.9,1231.6 L1269.7,1212.5 L1270.5,1186.5 L1271.4,1182.5 L1272.2,1154.7 L1273.0,1150.3 L1273.8,1143.9 L1274.7,1148.2 L1275.5,1150.0 L1276.3,1156.0 L1277.1,1172.1 L1278.0,1210.5 L1278.8,1227.3 L1279.6,1243.5 L1280.4,1260.4 L1281.3,1267.1 L1282.1,1286.8 L1282.9,1308.7 L1283.7,1303.8 L1284.6,1321.7 L1285.4,1324.9 L1286.2,1351.0 L1287.0,1351.0 L1287.9,1360.5 L1288.7,1368.3 L1289.5,1387.5 L1290.3,1377.3 L1291.2,1399.6 L1292.0,1383.7 L1292.8,1375.6 L1293.6,1382.4 L1294.5,1393.7 L1295.3,1403.4 L1296.1,1393.1 L1296.9,1415.7 L1297.8,1419.0 L1298.6,1421.3 L1299.4,1404.2 L1300.2,1424.3 L1301.1,1405.3 L1301.9,1401.5 L1302.7,1405.7 L1303.6,1416.0 L1304.4,1410.5 L1305.2,1429.4 L1306.0,1414.7 L1306.9,1401.9 L1307.7,1403.8 L1308.5,1434.7 L1309.3,1420.5 L1310.2,1424.2 L1311.0,1410.2 L1311.8,1417.6 L1312.6,1422.6 L1313.5,1429.3 L1314.3,1420.1 L1315.1,1424.1 L1315.9,1421.8 L1316.8,1424.7 L1317.6,1436.3 L1318.4,1418.3 L1319.2,1418.0 L1320.1,1421.0 L1320.9,1420.7 L1321.7,1411.0 L1322.5,1412.3 L1323.4,1408.4 L1324.2,1416.2 L1325.0,1414.8 L1325.8,1423.9 L1326.7,1436.4 L1327.5,1437.5 L1328.3,1418.6 L1329.1,1423.4 L1330.0,1418.5 L1330.8,1408.6 L1331.6,1428.0 L1332.4,1424.1 L1333.3,1430.2 L1334.1,1429.1 L1334.9,1442.4 L1335.7,1427.4 L1336.6,1412.6 L1337.4,1438.5 L1338.2,1419.6 L1339.0,1434.7 L1339.9,1424.1 L1340.7,1411.5 L1341.5,1425.7 L1342.3,1421.8 L1343.2,1418.6 L1344.0,1426.8 L1344.8,1412.8 L1345.6,1443.6 L1346.5,1430.3 L1347.3,1443.3 L1348.1,1441.3 L1348.9,1426.6 L1349.8,1439.2 L1350.6,1431.4 L1351.4,1412.2 L1352.3,1448.1 L1353.1,1405.1 L1353.9,1427.7 L1354.7,1425.5 L1355.6,1445.2 L1356.4,1407.2 L1357.2,1431.9 L1358.0,1420.5 L1358.9,1425.9 L1359.7,1434.0 L1360.5,1443.6 L1361.3,1417.4 L1362.2,1434.7 L1363.0,1442.6 L1363.8,1421.7 L1364.6,1443.9 L1365.5,1434.2 L1366.3,1444.5 L1367.1,1430.9 L1367.9,1443.3 L1368.8,1407.1 L1369.6,1415.6 L1370.4,1422.7 L1371.2,1424.5 L1372.1,1421.2 L1372.9,1419.6 L1373.7,1426.4 L1374.5,1441.1 L1375.4,1428.4 L1376.2,1444.1 L1377.0,1434.8 L1377.8,1426.7 L1378.7,1441.5 L1379.5,1427.1 L1380.3,1436.8 L1381.1,1416.3 L1382.0,1436.2 L1382.8,1427.9 L1383.6,1427.2 L1384.4,1431.8 L1385.3,1430.3 L1386.1,1435.6 L1386.9,1432.2 L1387.7,1431.9 L1388.6,1426.8 L1389.4,1424.0 L1390.2,1433.4 L1391.0,1423.2 L1391.9,1433.1 L1392.7,1440.3 L1393.5,1436.6 L1394.3,1438.3 L1395.2,1447.4 L1396.0,1432.3 L1396.8,1431.0 L1397.7,1424.2 L1398.5,1426.9 L1399.3,1436.4 L1400.1,1428.3 L1401.0,1433.4 L1401.8,1426.7 L1402.6,1423.8 L1403.4,1433.7 L1404.3,1426.7 L1405.1,1423.1 L1405.9,1429.6 L1406.7,1440.9 L1407.6,1433.6 L1408.4,1439.7 L1409.2,1425.2 L1410.0,1431.0 L1410.9,1430.0 L1411.7,1421.5 L1412.5,1426.8 L1413.3,1431.5 L1414.2,1444.0 L1415.0,1437.0 L1415.8,1438.3 L1416.6,1434.3 L1417.5,1441.7 L1418.3,1449.4 L1419.1,1423.7 L1419.9,1435.7 L1420.8,1442.7 L1421.6,1431.8 L1422.4,1434.7 L1423.2,1425.2 L1424.1,1433.2 L1424.9,1438.6 L1425.7,1442.4 L1426.5,1432.7 L1427.4,1445.3 L1428.2,1440.9 L1429.0,1427.0 L1429.8,1434.0 L1430.7,1433.1 L1431.5,1434.7 L1432.3,1442.3 L1433.1,1435.9 L1434.0,1428.9 L1434.8,1428.5 L1435.6,1440.5 L1436.4,1432.1 L1437.3,1425.6 L1438.1,1430.6 L1438.9,1422.5 L1439.7,1432.6 L1440.6,1443.3 L1441.4,1432.8 L1442.2,1431.3 L1443.0,1427.3 L1443.9,1428.5 L1444.7,1422.4 L1445.5,1427.8 L1446.4,1431.0 L1447.2,1436.9 L1448.0,1434.6 L1448.8,1423.3 L1449.7,1421.0 L1450.5,1429.6 L1451.3,1430.9 L1452.1,1434.2 L1453.0,1430.5 L1453.8,1432.0 L1454.6,1436.6 L1455.4,1425.6 L1456.3,1440.7 L1457.1,1431.3 L1457.9,1431.1 L1458.7,1427.2 L1459.6,1433.8 L1460.4,1439.8 L1461.2,1433.3 L1462.0,1440.2 L1462.9,1435.5 L1463.7,1438.5 L1464.5,1419.8 L1465.3,1444.8 L1466.2,1441.2 L1467.0,1423.7 L1467.8,1434.2 L1468.6,1442.1 L1469.5,1427.5 L1470.3,1420.4 L1471.1,1432.2 L1471.9,1425.7 L1472.8,1441.9 L1473.6,1437.2 L1474.4,1430.8 L1475.2,1431.0 L1476.1,1437.8 L1476.9,1437.2 L1477.7,1437.4 L1478.5,1438.6 L1479.4,1436.9 L1480.2,1437.1 L1481.0,1428.8 L1481.8,1442.2 L1482.7,1428.4 L1483.5,1421.4 L1484.3,1431.1 L1485.1,1436.3 L1486.0,1439.6 L1486.8,1436.6 L1487.6,1441.2 L1488.4,1430.3 L1489.3,1433.3 L1490.1,1426.4 L1490.9,1430.1 L1491.7,1426.1 L1492.6,1422.2 L1493.4,1424.9 L1494.2,1419.1 L1495.1,1423.8 L1495.9,1435.8 L1496.7,1427.0 L1497.5,1450.7 L1498.4,1430.9 L1499.2,1426.0 L1500.0,1427.1 L1500.8,1413.2 L1501.7,1432.6 L1502.5,1438.9 L1503.3,1435.2 L1504.1,1443.7 L1505.0,1445.3 L1505.8,1439.8 L1506.6,1436.2 L1507.4,1437.5 L1508.3,1423.4 L1509.1,1440.2 L1509.9,1440.9 L1510.7,1420.4 L1511.6,1442.4 L1512.4,1426.0 L1513.2,1432.9 L1514.0,1445.1 L1514.9,1424.6 L1515.7,1434.7 L1516.5,1428.8 L1517.3,1430.0 L1518.2,1429.1 L1519.0,1425.0 L1519.8,1419.8 L1520.6,1429.6 L1521.5,1433.4 L1522.3,1424.9 L1523.1,1428.0 L1523.9,1445.0 L1524.8,1428.1 L1525.6,1435.0 L1526.4,1433.8 L1527.2,1441.8 L1528.1,1420.4 L1528.9,1427.7 L1529.7,1435.5 L1530.5,1435.3 L1531.4,1433.4 L1532.2,1432.7 L1533.0,1425.7 L1533.8,1428.6 L1534.7,1436.0 L1535.5,1433.8 L1536.3,1426.9 L1537.1,1439.3 L1538.0,1435.2 L1538.8,1424.5 L1539.6,1431.7 L1540.4,1422.0 L1541.3,1440.1 L1542.1,1435.4 L1542.9,1438.0 L1543.8,1438.3 L1544.6,1425.6 L1545.4,1423.7 L1546.2,1430.6 L1547.1,1432.3 L1547.9,1420.5 L1548.7,1421.1 L1549.5,1443.6 L1550.4,1431.9 L1551.2,1443.5 L1552.0,1441.8 L1552.8,1436.6 L1553.7,1439.8 L1554.5,1426.4 L1555.3,1434.7 L1556.1,1433.1 L1557.0,1431.8 L1557.8,1420.5 L1558.6,1428.6 L1559.4,1424.2 L1560.3,1426.9 L1561.1,1422.5 L1561.9,1430.6 L1562.7,1431.5 L1563.6,1422.2 L1564.4,1429.6 L1565.2,1441.8 L1566.0,1440.2 L1566.9,1434.5 L1567.7,1426.9 L1568.5,1437.1 L1569.3,1421.1 L1570.2,1427.4 L1571.0,1433.0 L1571.8,1439.8 L1572.6,1425.3 L1573.5,1425.9 L1574.3,1439.4 L1575.1,1421.7 L1575.9,1422.1 L1576.8,1420.9 L1577.6,1430.8 L1578.4,1423.6 L1579.2,1442.8 L1580.1,1449.4 L1580.9,1433.9 L1581.7,1431.2 L1582.5,1426.7 L1583.4,1436.0 L1584.2,1431.8 L1585.0,1437.8 L1585.8,1436.4 L1586.7,1438.4 L1587.5,1427.1 L1588.3,1420.9 L1589.1,1437.1 L1590.0,1440.1 L1590.8,1431.2 L1591.6,1425.9 L1592.5,1426.9 L1593.3,1437.3 L1594.1,1428.5 L1594.9,1434.8 L1595.8,1431.4 L1596.6,1428.6 L1597.4,1430.6 L1598.2,1422.9 L1599.1,1430.2 L1599.9,1415.4 L1600.7,1423.8 L1601.5,1432.3 L1602.4,1415.7 L1603.2,1415.5 L1604.0,1418.7 L1604.8,1419.6 L1605.7,1415.4 L1606.5,1410.0 L1607.3,1416.0 L1608.1,1406.9 L1609.0,1415.9 L1609.8,1406.6 L1610.6,1413.2 L1611.4,1407.1 L1612.3,1407.0 L1613.1,1409.3 L1613.9,1407.0 L1614.7,1419.5 L1615.6,1412.3 L1616.4,1415.3 L1617.2,1409.9 L1618.0,1416.9 L1618.9,1410.5 L1619.7,1408.1 L1620.5,1420.0 L1621.3,1415.3 L1622.2,1412.3 L1623.0,1416.7 L1623.8,1416.6 L1624.6,1427.0 L1625.5,1422.7 L1626.3,1433.9 L1627.1,1420.2 L1627.9,1423.7 L1628.8,1424.0 L1629.6,1439.3 L1630.4,1420.6 L1631.2,1418.4 L1632.1,1419.2 L1632.9,1425.0 L1633.7,1419.8 L1634.5,1428.6 L1635.4,1434.2 L1636.2,1429.5 L1637.0,1434.9 L1637.8,1418.9 L1638.7,1442.7 L1639.5,1427.6 L1640.3,1436.3 L1641.2,1434.2 L1642.0,1424.4 L1642.8,1430.5 L1643.6,1422.2 L1644.5,1431.2 L1645.3,1431.2 L1646.1,1450.0 L1646.9,1421.7 L1647.8,1435.7 L1648.6,1432.9 L1649.4,1434.8 L1650.2,1434.2 L1651.1,1439.3 L1651.9,1433.0 L1652.7,1427.0 L1653.5,1421.1 L1654.4,1426.8 L1655.2,1435.2 L1656.0,1420.9 L1656.8,1441.4 L1657.7,1426.7 L1658.5,1439.1 L1659.3,1431.6 L1660.1,1439.8 L1661.0,1440.5 L1661.8,1434.8 L1662.6,1419.5 L1663.4,1427.5 L1664.3,1423.6 L1665.1,1432.9 L1665.9,1448.1 L1666.7,1436.0 L1667.6,1434.7 L1668.4,1432.6 L1669.2,1422.9 L1670.0,1427.2 L1670.9,1435.4 L1671.7,1431.0 L1672.5,1436.1 L1673.3,1425.2 L1674.2,1427.2 L1675.0,1427.1 L1675.8,1423.6 L1676.6,1424.5 L1677.5,1419.1 L1678.3,1434.3 L1679.1,1422.7 L1679.9,1429.6 L1680.8,1421.2 L1681.6,1431.8 L1682.4,1438.3 L1683.2,1430.8 L1684.1,1432.1 L1684.9,1434.9 L1685.7,1411.9 L1686.6,1418.3 L1687.4,1428.8 L1688.2,1420.6 L1689.0,1416.3 L1689.9,1417.7 L1690.7,1421.1 L1691.5,1417.6 L1692.3,1427.3 L1693.2,1432.6 L1694.0,1433.1 L1694.8,1415.6 L1695.6,1412.8 L1696.5,1423.7 L1697.3,1420.4 L1698.1,1432.5 L1698.9,1413.6 L1699.8,1419.1 L1700.6,1428.8 L1701.4,1412.5 L1702.2,1410.6 L1703.1,1407.8 L1703.9,1413.7 L1704.7,1409.4 L1705.5,1416.5 L1706.4,1399.0 L1707.2,1409.2 L1708.0,1395.9 L1708.8,1398.1 L1709.7,1401.9 L1710.5,1388.7 L1711.3,1399.9 L1712.1,1388.9 L1713.0,1387.6 L1713.8,1386.5 L1714.6,1380.4 L1715.4,1373.0 L1716.3,1377.7 L1717.1,1374.9 L1717.9,1368.9 L1718.7,1368.2 L1719.6,1367.9 L1720.4,1356.1 L1721.2,1363.7 L1722.0,1355.1 L1722.9,1354.9 L1723.7,1354.5 L1724.5,1355.5 L1725.3,1360.1 L1726.2,1367.3 L1727.0,1364.5 L1727.8,1383.7 L1728.6,1394.0 L1729.5,1392.9 L1730.3,1390.5 L1731.1,1389.3 L1731.9,1392.2 L1732.8,1404.2 L1733.6,1401.8 L1734.4,1402.2 L1735.3,1418.3 L1736.1,1406.6 L1736.9,1414.4 L1737.7,1420.2 L1738.6,1416.2 L1739.4,1416.5 L1740.2,1434.5 L1741.0,1422.8 L1741.9,1422.4 L1742.7,1430.3 L1743.5,1424.1 L1744.3,1429.2 L1745.2,1432.7 L1746.0,1428.0 L1746.8,1439.2 L1747.6,1424.5 L1748.5,1424.0 L1749.3,1425.9 L1750.1,1424.4 L1750.9,1432.4 L1751.8,1433.7 L1752.6,1440.4 L1753.4,1440.5 L1754.2,1435.6 L1755.1,1423.1 L1755.9,1430.3 L1756.7,1421.1 L1757.5,1424.5 L1758.4,1437.9 L1759.2,1435.2 L1760.0,1438.5 L1760.8,1440.4 L1761.7,1428.8 L1762.5,1425.7 L1763.3,1437.6 L1764.1,1423.3 L1765.0,1424.4 L1765.8,1435.4 L1766.6,1428.2 L1767.4,1438.2 L1768.3,1430.9 L1769.1,1426.9 L1769.9,1442.3 L1770.7,1421.4 L1771.6,1441.8 L1772.4,1430.4 L1773.2,1435.0 L1774.0,1424.5 L1774.9,1437.7 L1775.7,1435.0 L1776.5,1417.9 L1777.3,1420.6 L1778.2,1424.6 L1779.0,1436.5 L1779.8,1428.2 L1780.6,1441.8 L1781.5,1437.2 L1782.3,1427.6 L1783.1,1414.5 L1784.0,1433.9 L1784.8,1425.5 L1785.6,1424.8 L1786.4,1438.5 L1787.3,1429.2 L1788.1,1431.6 L1788.9,1421.7 L1789.7,1440.0 L1790.6,1427.6 L1791.4,1432.5 L1792.2,1419.7 L1793.0,1443.7 L1793.9,1420.7 L1794.7,1432.8 L1795.5,1427.0 L1796.3,1441.3 L1797.2,1440.5 L1798.0,1433.4 L1798.8,1430.7 L1799.6,1444.1 L1800.5,1436.6 L1801.3,1435.1 L1802.1,1432.8 L1802.9,1426.2 L1803.8,1428.9 L1804.6,1433.6 L1805.4,1440.2 L1806.2,1441.9 L1807.1,1430.7 L1807.9,1421.7 L1808.7,1431.4 L1809.5,1424.5 L1810.4,1439.7 L1811.2,1424.5 L1812.0,1433.1 L1812.8,1430.5 L1813.7,1426.2 L1814.5,1425.5 L1815.3,1429.2 L1816.1,1428.2 L1817.0,1428.7 L1817.8,1436.9 L1818.6,1433.9 L1819.4,1431.3 L1820.3,1421.0 L1821.1,1439.9 L1821.9,1430.6 L1822.7,1424.0 L1823.6,1426.0 L1824.4,1438.3 L1825.2,1440.2 L1826.0,1435.7 L1826.9,1428.9 L1827.7,1425.2 L1828.5,1433.1 L1829.3,1430.4 L1830.2,1434.6 L1831.0,1437.8 L1831.8,1422.8 L1832.7,1420.6 L1833.5,1432.6 L1834.3,1437.6 L1835.1,1426.3 L1836.0,1441.2 L1836.8,1440.6 L1837.6,1430.2 L1838.4,1420.4 L1839.3,1434.5 L1840.1,1430.9 L1840.9,1421.3 L1841.7,1439.8 L1842.6,1441.6 L1843.4,1419.4 L1844.2,1423.9 L1845.0,1434.6 L1845.9,1427.2 L1846.7,1424.6 L1847.5,1433.5 L1848.3,1418.8 L1849.2,1441.9 L1850.0,1421.0 L1850.8,1428.2 L1851.6,1429.8 L1852.5,1429.2 L1853.3,1436.4 L1854.1,1432.9 L1854.9,1435.3 L1855.8,1441.1 L1856.6,1426.7 L1857.4,1440.6 L1858.2,1438.6 L1859.1,1420.0 L1859.9,1435.5 L1860.7,1421.4 L1861.5,1422.3 L1862.4,1429.7 L1863.2,1421.3 L1864.0,1435.9 L1864.8,1438.2 L1865.7,1435.2 L1866.5,1434.4 L1867.3,1427.5 L1868.1,1420.0 L1869.0,1437.9 L1869.8,1433.8 L1870.6,1431.7 L1871.4,1429.4 L1872.3,1434.2 L1873.1,1422.1 L1873.9,1434.8 L1874.7,1438.6 L1875.6,1420.9 L1876.4,1422.0 L1877.2,1431.6 L1878.0,1438.2 L1878.9,1430.2 L1879.7,1425.8 L1880.5,1421.2 L1881.4,1420.9 L1882.2,1433.7 L1883.0,1430.7 L1883.8,1432.9 L1884.7,1430.8 L1885.5,1435.0 L1886.3,1434.2 L1887.1,1432.6 L1888.0,1430.3 L1888.8,1442.5 L1889.6,1434.5 L1890.4,1425.6 L1891.3,1427.6 L1892.1,1425.8 L1892.9,1425.5 L1893.7,1427.0 L1894.6,1423.6 L1895.4,1431.0 L1896.2,1440.0 L1897.0,1422.5 L1897.9,1428.4 L1898.7,1442.2 L1899.5,1424.8 L1900.3,1425.2 L1901.2,1440.4 L1902.0,1427.8 L1902.8,1431.6 L1903.6,1428.3 L1904.5,1435.9 L1905.3,1420.8 L1906.1,1438.5 L1906.9,1439.1 L1907.8,1434.9 L1908.6,1431.8 L1909.4,1436.0 L1910.2,1421.6 L1911.1,1439.0 L1911.9,1419.1 L1912.7,1441.1 L1913.5,1427.8 L1914.4,1420.6 L1915.2,1419.1 L1916.0,1433.1 L1916.8,1441.3 L1917.7,1436.9 L1918.5,1435.4 L1919.3,1426.1 L1920.1,1438.5 L1921.0,1424.2 L1921.8,1438.3 L1922.6,1425.1 L1923.4,1418.7 L1924.3,1425.3 L1925.1,1422.8 L1925.9,1429.4 L1926.7,1433.4 L1927.6,1426.7 L1928.4,1426.1 L1929.2,1444.6 L1930.1,1411.9 L1930.9,1419.4 L1931.7,1426.2 L1932.5,1429.1 L1933.4,1434.0 L1934.2,1433.9 L1935.0,1432.0 L1935.8,1444.9 L1936.7,1420.5 L1937.5,1427.8 L1938.3,1437.1 L1939.1,1422.0 L1940.0,1432.0 L1940.8,1421.7 L1941.6,1436.0 L1942.4,1424.8 L1943.3,1441.8 L1944.1,1424.5 L1944.9,1441.2 L1945.7,1430.9 L1946.6,1427.7 L1947.4,1441.7 L1948.2,1429.9 L1949.0,1434.7 L1949.9,1430.0 L1950.7,1423.8 L1951.5,1430.9 L1952.3,1422.3 L1953.2,1437.4 L1954.0,1438.3 L1954.8,1424.0 L1955.6,1438.8 L1956.5,1428.1 L1957.3,1437.6 L1958.1,1431.6 L1958.9,1427.8 L1959.8,1436.9 L1960.6,1436.6 L1961.4,1441.0 L1962.2,1425.0 L1963.1,1438.1 L1963.9,1438.5 L1964.7,1432.0 L1965.5,1434.3 L1966.4,1437.8 L1967.2,1428.8 L1968.0,1430.8 L1968.8,1437.0 L1969.7,1435.6 L1970.5,1422.7 L1971.3,1430.9 L1972.1,1435.9 L1973.0,1432.6 L1973.8,1427.4 L1974.6,1420.2 L1975.5,1440.1 L1976.3,1428.3 L1977.1,1436.1 L1977.9,1429.2 L1978.8,1436.1 L1979.6,1437.3 L1980.4,1437.5 L1981.2,1435.7 L1982.1,1429.4 L1982.9,1420.2 L1983.7,1439.1 L1984.5,1437.8 L1985.4,1435.3 L1986.2,1421.5 L1987.0,1421.7 L1987.8,1421.9 L1988.7,1427.2 L1989.5,1431.5 L1990.3,1439.9 L1991.1,1430.9 L1992.0,1429.0 L1992.8,1435.1 L1993.6,1436.5 L1994.4,1439.9 L1995.3,1428.2 L1996.1,1432.5 L1996.9,1424.6 L1997.7,1436.5 L1998.6,1436.2 L1999.4,1423.1 L2000.2,1430.8 L2001.0,1441.6 L2001.9,1437.2 L2002.7,1439.0 L2003.5,1433.2 L2004.3,1406.6 L2005.2,1426.3 L2006.0,1426.4 L2006.8,1432.4 L2007.6,1432.3 L2008.5,1432.3 L2009.3,1435.6 L2010.1,1423.7 L2010.9,1439.0 L2011.8,1419.1 L2012.6,1439.4 L2013.4,1429.2 L2014.2,1438.7 L2015.1,1437.5 L2015.9,1433.0 L2016.7,1441.5 L2017.5,1427.2 L2018.4,1430.0 L2019.2,1427.1 L2020.0,1425.7 L2020.8,1437.7 L2021.7,1433.0 L2022.5,1433.3 L2023.3,1423.4 L2024.2,1432.4 L2025.0,1437.9 L2025.8,1428.6 L2026.6,1434.8 L2027.5,1424.9 L2028.3,1422.1 L2029.1,1424.1 L2029.9,1437.4 L2030.8,1424.7 L2031.6,1438.0 L2032.4,1434.3 L2033.2,1424.3 L2034.1,1429.5 L2034.9,1420.3 L2035.7,1425.1 L2036.5,1429.8 L2037.4,1423.2 L2038.2,1430.6 L2039.0,1422.4 L2039.8,1443.6 L2040.7,1432.2 L2041.5,1438.4 L2042.3,1432.7 L2043.1,1436.0 L2044.0,1420.1 L2044.8,1426.9 L2045.6,1432.4 L2046.4,1424.9 L2047.3,1444.1 L2048.1,1422.2 L2048.9,1443.3 L2049.7,1430.4 L2050.6,1420.1 L2051.4,1439.8 L2052.2,1438.4 L2053.0,1443.7 L2053.9,1442.7 L2054.7,1429.5 L2055.5,1430.3 L2056.3,1435.4 L2057.2,1428.7 L2058.0,1435.3 L2058.8,1438.4 L2059.6,1434.9 L2060.5,1440.0 L2061.3,1443.8 L2062.1,1433.7 L2062.9,1428.3 L2063.8,1423.1 L2064.6,1426.6 L2065.4,1434.0 L2066.2,1437.9 L2067.1,1432.3 L2067.9,1428.8 L2068.7,1432.0 L2069.5,1435.5 L2070.4,1428.4 L2071.2,1443.7 L2072.0,1426.4 L2072.9,1420.7 L2073.7,1440.2 L2074.5,1426.6 L2075.3,1434.6 L2076.2,1437.2 L2077.0,1449.4 L2077.8,1426.4 L2078.6,1432.7 L2079.5,1420.4 L2080.3,1427.0 L2081.1,1442.4 L2081.9,1421.2 L2082.8,1430.1 L2083.6,1420.9 L2084.4,1438.5 L2085.2,1438.0 L2086.1,1434.7 L2086.9,1428.3 L2087.7,1425.4 L2088.5,1436.9 L2089.4,1417.7 L2090.2,1438.1 L2091.0,1434.3 L2091.8,1419.4 L2092.7,1419.8 L2093.5,1421.0 L2094.3,1427.8 L2095.1,1429.8 L2096.0,1418.8 L2096.8,1439.8 L2097.6,1435.6 L2098.4,1430.5 L2099.3,1429.2 L2100.1,1423.1 L2100.9,1429.9 L2101.7,1428.3 L2102.6,1427.0 L2103.4,1433.2 L2104.2,1428.7 L2105.0,1439.0 L2105.9,1437.6 L2106.7,1430.5 L2107.5,1433.4 L2108.3,1425.6 L2109.2,1430.1 L2110.0,1428.1 L2110.8,1423.1 L2111.6,1441.0 L2112.5,1438.1 L2113.3,1432.6 L2114.1,1418.9 L2114.9,1433.2 L2115.8,1418.7 L2116.6,1422.1 L2117.4,1428.5 L2118.2,1425.9 L2119.1,1424.5 L2119.9,1432.4 L2120.7,1419.0 L2121.6,1424.9 L2122.4,1428.3 L2123.2,1432.8 L2124.0,1423.3 L2124.9,1423.0 L2125.7,1420.8 L2126.5,1414.8 L2127.3,1421.5 L2128.2,1431.0 L2129.0,1430.9 L2129.8,1434.1 L2130.6,1432.0 L2131.5,1433.3 L2132.3,1416.6 L2133.1,1435.3 L2133.9,1412.8 L2134.8,1426.6 L2135.6,1430.2 L2136.4,1426.3 L2137.2,1419.5 L2138.1,1417.6 L2138.9,1420.9 L2139.7,1408.1 L2140.5,1423.6 L2141.4,1420.4 L2142.2,1406.7 L2143.0,1420.0 L2143.8,1415.9 L2144.7,1405.3 L2145.5,1405.1 L2146.3,1406.1 L2147.1,1406.9 L2148.0,1407.8 L2148.8,1407.2 L2149.6,1407.6 L2150.4,1409.7 L2151.3,1403.4 L2152.1,1411.1 L2152.9,1405.9 L2153.7,1413.5 L2154.6,1408.0 L2155.4,1428.5 L2156.2,1405.7 L2157.0,1424.8 L2157.9,1421.9 L2158.7,1423.9 L2159.5,1409.9 L2160.3,1431.5 L2161.2,1425.1 L2162.0,1425.3 L2162.8,1411.6 L2163.6,1415.0 L2164.5,1431.5 L2165.3,1427.5 L2166.1,1424.6 L2166.9,1432.2 L2167.8,1417.0 L2168.6,1424.3 L2169.4,1437.9 L2170.3,1426.8 L2171.1,1428.2 L2171.9,1431.8 L2172.7,1426.1 L2173.6,1422.9 L2174.4,1430.7 L2175.2,1433.7 L2176.0,1426.0 L2176.9,1440.0 L2177.7,1421.9 L2178.5,1438.6 L2179.3,1428.3 L2180.2,1431.1 L2181.0,1425.4 L2181.8,1434.4 L2182.6,1426.6 L2183.5,1440.5 L2184.3,1420.7 L2185.1,1425.7 L2185.9,1423.2 L2186.8,1434.5 L2187.6,1428.4 L2188.4,1433.7 L2189.2,1430.6 L2190.1,1438.5 L2190.9,1431.2 L2191.7,1443.5 L2192.5,1422.8 L2193.4,1439.4 L2194.2,1424.2 L2195.0,1421.5 L2195.8,1425.4 L2196.7,1439.1 L2197.5,1428.2 L2198.3,1425.3 L2199.1,1424.9 L2200.0,1427.5 L2200.8,1430.2 L2201.6,1433.5 L2202.4,1433.1 L2203.3,1429.6 L2204.1,1431.6 L2204.9,1433.5 L2205.7,1433.9 L2206.6,1430.6 L2207.4,1435.7 L2208.2,1424.2 L2209.0,1430.6 L2209.9,1422.8 L2210.7,1436.7 L2211.5,1437.8 L2212.3,1435.4 L2213.2,1432.1 L2214.0,1431.1 L2214.8,1423.9 L2215.6,1443.0 L2216.5,1429.1 L2217.3,1441.7 L2218.1,1438.2 L2219.0,1432.7 L2219.8,1430.8 L2220.6,1422.2 L2221.4,1433.0 L2222.3,1422.7 L2223.1,1426.3 L2223.9,1432.8 L2224.7,1424.3 L2225.6,1434.7 L2226.4,1426.7 L2227.2,1420.1 L2228.0,1425.7 L2228.9,1431.6 L2229.7,1436.3 L2230.5,1433.4 L2231.3,1436.1 L2232.2,1420.3 L2233.0,1424.6 L2233.8,1429.7 L2234.6,1427.2 L2235.5,1419.4 L2236.3,1432.8 L2237.1,1433.7 L2237.9,1420.6 L2238.8,1425.0 L2239.6,1439.0 L2240.4,1425.6 L2241.2,1430.9 L2242.1,1432.9 L2242.9,1412.6 L2243.7,1434.9 L2244.5,1429.4 L2245.4,1423.9 L2246.2,1438.6 L2247.0,1426.7 L2247.8,1442.1 L2248.7,1433.0 L2249.5,1422.7 L2250.3,1430.7 L2251.1,1433.7 L2252.0,1419.8 L2252.8,1425.5 L2253.6,1427.6 L2254.4,1425.2 L2255.3,1441.3 L2256.1,1433.1 L2256.9,1418.2 L2257.7,1423.7 L2258.6,1418.5 L2259.4,1438.6 L2260.2,1434.1 L2261.0,1422.9 L2261.9,1422.4 L2262.7,1445.1 L2263.5,1429.7 L2264.4,1432.9 L2265.2,1436.6 L2266.0,1426.7 L2266.8,1439.4 L2267.7,1427.5 L2268.5,1425.7 L2269.3,1437.6 L2270.1,1431.9 L2271.0,1447.4 L2271.8,1427.7 L2272.6,1433.0 L2273.4,1445.7 L2274.3,1445.8 L2275.1,1434.4 L2275.9,1416.8 L2276.7,1431.2 L2277.6,1443.0 L2278.4,1436.1 L2279.2,1447.4 L2280.0,1439.4 L2280.9,1441.0 L2281.7,1432.1 L2282.5,1421.8 L2283.3,1436.3 L2284.2,1417.1 L2285.0,1433.9 L2285.8,1430.2 L2286.6,1435.0 L2287.5,1442.6 L2288.3,1439.8 L2289.1,1437.7 L2289.9,1449.4 L2290.8,1434.7 L2291.6,1445.1 L2292.4,1429.6 L2293.2,1429.4 L2294.1,1442.9 L2294.9,1428.3 L2295.7,1430.6 L2296.5,1444.3 L2297.4,1423.1 L2298.2,1410.6 L2299.0,1441.2 L2299.8,1425.7 L2300.7,1445.8 L2301.5,1448.9 L2302.3,1439.3 L2303.1,1431.0 L2304.0,1432.5 L2304.8,1437.5 L2305.6,1444.7 L2306.4,1421.4 L2307.3,1451.4 L2308.1,1430.5 L2308.9,1427.1 L2309.7,1447.0 L2310.6,1425.0 L2311.4,1419.2 L2312.2,1423.6"/>
</g>
<text transform="translate(386.2,1575.3) scale(0.94,1)" font-size="67.2" text-anchor="middle">30</text>
<text transform="translate(661.34,1575.3) scale(0.94,1)" font-size="67.2" text-anchor="middle">40</text>
<text transform="translate(936.49,1575.3) scale(0.94,1)" font-size="67.2" text-anchor="middle">50</text>
<text transform="translate(1211.63,1575.3) scale(0.94,1)" font-size="67.2" text-anchor="middle">60</text>
<text transform="translate(1486.77,1575.3) scale(0.94,1)" font-size="67.2" text-anchor="middle">70</text>
<text transform="translate(1761.91,1575.3) scale(0.94,1)" font-size="67.2" text-anchor="middle">80</text>
<text transform="translate(2037.06,1575.3) scale(0.94,1)" font-size="67.2" text-anchor="middle">90</text>
<text transform="translate(2312.2,1575.3) scale(0.94,1)" font-size="67.2" text-anchor="middle">100</text>
<text transform="translate(338.3,1451.2) scale(0.94,1)" font-size="67.2" text-anchor="end">0</text>
<text transform="translate(315.5,1001) scale(0.915,1)" font-size="67.2" text-anchor="end">1x10</text>
<text transform="translate(337.6,965.5) scale(0.95,1)" font-size="39.6" text-anchor="end">4</text>
<text transform="translate(315.5,543) scale(0.915,1)" font-size="67.2" text-anchor="end">2x10</text>
<text transform="translate(337.6,507.5) scale(0.95,1)" font-size="39.6" text-anchor="end">4</text>
<text transform="translate(315.5,87) scale(0.915,1)" font-size="67.2" text-anchor="end">3x10</text>
<text transform="translate(337.6,51.5) scale(0.95,1)" font-size="39.6" text-anchor="end">4</text>
<text transform="translate(1344,1695.3)" font-size="81.5" text-anchor="middle">2-theta (degrees)</text>
<text transform="translate(91,774) rotate(-90) scale(0.997,1)" font-size="81.5" text-anchor="middle">Intensity (counts)</text>
<rect x="1349.5" y="106.5" width="897" height="173" fill="#fff" stroke="#000" stroke-width="3" shape-rendering="crispEdges"/>
<line x1="1381.5" y1="154.5" x2="1536.5" y2="154.5" stroke="#000" stroke-width="7" stroke-linecap="round"/>
<line x1="1381.5" y1="240" x2="1536.5" y2="240" stroke="#f00" stroke-width="7" stroke-linecap="round"/>
<text transform="translate(1553.5,177.8) scale(0.977,1)" font-size="62.6" text-anchor="start">without treatment</text>
<text transform="translate(1553.5,263) scale(0.978,1)" font-size="62.6" text-anchor="start">with treatment (GLYMO)</text>
<text transform="translate(566.5,1077.5) rotate(-90) scale(0.943,1)" font-size="67.2" text-anchor="start">MgO (111)</text>
<text transform="translate(811.5,427.26) rotate(-90) scale(0.9369,1)" font-size="67.2" text-anchor="start">MgO (200)</text>
<text transform="translate(1204.8,1099.16) rotate(-90) scale(0.9369,1)" font-size="67.2" text-anchor="start">MgO (110)</text>
<text transform="translate(1295.1,1027.9) rotate(-90) scale(0.943,1)" font-size="67.2" text-anchor="start">MgO (220)</text>
<text transform="translate(1634.8,1115.16) rotate(-90) scale(0.9369,1)" font-size="67.2" text-anchor="start">MgO (311)</text>
<text transform="translate(1754.7,1290.7) rotate(-90) scale(0.943,1)" font-size="67.2" text-anchor="start">MgO (222)</text>
<text transform="translate(2174.1,1133.67) rotate(-90) scale(0.9378,1)" font-size="67.2" text-anchor="start">MgO (400)</text>
<g stroke="#000" stroke-linecap="round" stroke-linejoin="round" fill="#000">
<line x1="577.2" y1="1081" x2="577.2" y2="1281" stroke-width="7.4"/>
<path stroke-width="9" d="M569.7,1281.5 L584.7,1281.5 L577.2,1316.5 Z"/>
</g>
<g stroke="#000" stroke-linecap="round" stroke-linejoin="round" fill="#000">
<line x1="1175.8" y1="1115" x2="1175.8" y2="1316" stroke-width="7.4"/>
<path stroke-width="9" d="M1168.3,1316.5 L1183.3,1316.5 L1175.8,1351.5 Z"/>
</g>
<g stroke="#000" stroke-linecap="round" stroke-linejoin="round" fill="#000">
<line x1="1611.6" y1="1127" x2="1611.6" y2="1327" stroke-width="7.4"/>
<path stroke-width="9" d="M1604.1,1327.5 L1619.1,1327.5 L1611.6,1362.5 Z"/>
</g>
<g stroke="#000" stroke-linecap="round" stroke-linejoin="round" fill="#000">
<line x1="2147.4" y1="1143" x2="2147.4" y2="1343" stroke-width="7.4"/>
<path stroke-width="9" d="M2139.9,1343.5 L2154.9,1343.5 L2147.4,1378.5 Z"/>
</g>
</svg>
</body></html>
